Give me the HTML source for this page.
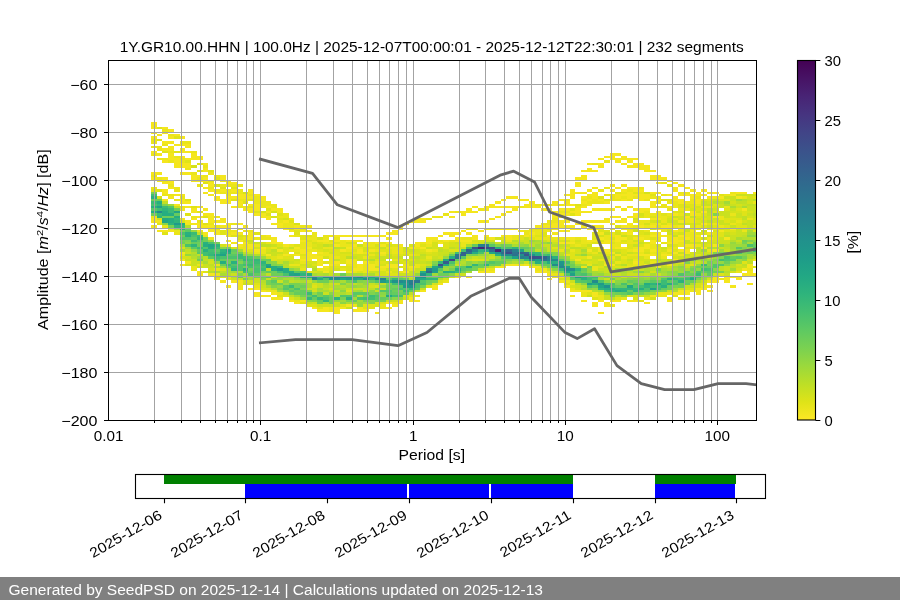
<!DOCTYPE html>
<html><head><meta charset="utf-8"><style>
html,body{margin:0;padding:0;background:#fff;width:900px;height:600px;overflow:hidden}
svg{position:absolute;left:0;top:0;will-change:transform}
text{font-family:"Liberation Sans",sans-serif}
</style></head><body>
<svg id="s" width="900" height="600" viewBox="0 0 900 600" shape-rendering="crispEdges"><rect width="900" height="600" fill="#fff"/><clipPath id="ax"><rect x="108.5" y="60.5" width="648.0" height="360.0"/></clipPath><g clip-path="url(#ax)"><path fill="#482374" d="M477.81 246.80H483.54V249.20H477.81zM495.01 249.20H500.74V251.60H495.01z"/><path fill="#424086" d="M449.14 258.80H454.88V261.20H449.14z"/><path fill="#3e4989" d="M483.54 246.80H489.28V249.20H483.54zM506.48 251.60H512.21V254.00H506.48z"/><path fill="#3d4e8a" d="M437.68 263.60H443.41V266.00H437.68zM472.08 246.80H477.81V249.20H472.08zM489.28 246.80H495.01V249.20H489.28zM529.41 256.40H535.15V258.80H529.41z"/><path fill="#3a538b" d="M523.68 254.00H529.41V256.40H523.68zM535.15 256.40H540.88V258.80H535.15z"/><path fill="#365c8d" d="M443.41 261.20H449.14V263.60H443.41z"/><path fill="#34608d" d="M460.61 251.60H466.34V254.00H460.61zM506.48 249.20H512.21V251.60H506.48zM517.94 251.60H523.68V254.00H517.94z"/><path fill="#32648e" d="M460.61 254.00H466.34V256.40H460.61zM466.34 249.20H472.08V251.60H466.34zM540.88 256.40H546.61V258.80H540.88z"/><path fill="#31688e" d="M426.21 270.80H431.94V273.20H426.21zM523.68 251.60H529.41V254.00H523.68z"/><path fill="#2f6c8e" d="M489.28 249.20H495.01V251.60H489.28zM500.74 251.60H506.48V254.00H500.74z"/><path fill="#2d708e" d="M512.21 254.00H517.94V256.40H512.21zM540.88 258.80H546.61V261.20H540.88z"/><path fill="#2c738e" d="M454.88 254.00H460.61V258.80H454.88zM512.21 251.60H517.94V254.00H512.21z"/><path fill="#2a778e" d="M414.74 280.40H420.48V282.80H414.74zM466.34 251.60H472.08V254.00H466.34z"/><path fill="#297b8e" d="M409.01 282.80H414.74V285.20H409.01zM483.54 244.40H489.28V246.80H483.54z"/><path fill="#277f8e" d="M409.01 280.40H414.74V282.80H409.01zM426.21 268.40H431.94V270.80H426.21zM512.21 249.20H517.94V251.60H512.21zM517.94 256.40H523.68V258.80H517.94zM546.61 256.40H552.35V258.80H546.61z"/><path fill="#26828e" d="M311.54 278.00H317.27V280.40H311.54zM380.34 278.00H386.07V280.40H380.34zM477.81 244.40H483.54V246.80H477.81zM500.74 249.20H506.48V251.60H500.74zM546.61 258.80H552.35V261.20H546.61z"/><path fill="#24868e" d="M311.54 275.60H317.27V278.00H311.54zM334.47 275.60H340.21V278.00H334.47zM523.68 256.40H529.41V258.80H523.68zM552.35 258.80H558.08V261.20H552.35zM558.08 266.00H563.81V268.40H558.08z"/><path fill="#238a8d" d="M156.73 210.80H162.47V213.20H156.73zM357.41 275.60H363.14V278.00H357.41zM397.54 280.40H403.27V282.80H397.54zM437.68 266.00H443.41V268.40H437.68zM472.08 249.20H477.81V251.60H472.08zM500.74 254.00H506.48V256.40H500.74zM506.48 254.00H512.21V256.40H506.48zM552.35 263.60H558.08V266.00H552.35zM563.81 268.40H569.55V270.80H563.81zM569.55 268.40H575.28V270.80H569.55zM592.48 280.40H598.21V282.80H592.48z"/><path fill="#218e8d" d="M323.01 275.60H328.74V278.00H323.01zM328.74 275.60H334.47V278.00H328.74zM334.47 278.00H340.21V280.40H334.47zM363.14 278.00H368.87V280.40H363.14zM374.61 278.00H380.34V280.40H374.61zM495.01 251.60H500.74V254.00H495.01zM529.41 258.80H535.15V261.20H529.41z"/><path fill="#20928c" d="M340.21 275.60H345.94V278.00H340.21zM345.94 275.60H351.67V278.00H345.94zM391.81 280.40H397.54V282.80H391.81zM403.27 280.40H409.01V282.80H403.27zM409.01 285.20H414.74V287.60H409.01zM420.48 273.20H426.21V278.00H420.48zM517.94 254.00H523.68V256.40H517.94zM558.08 263.60H563.81V266.00H558.08zM603.95 285.20H609.68V287.60H603.95z"/><path fill="#1f968b" d="M328.74 278.00H334.47V280.40H328.74zM403.27 285.20H409.01V287.60H403.27zM529.41 254.00H535.15V256.40H529.41zM558.08 261.20H563.81V263.60H558.08z"/><path fill="#1f9a8a" d="M173.94 222.80H179.67V225.20H173.94zM265.67 266.00H271.40V268.40H265.67zM277.14 268.40H282.87V270.80H277.14zM345.94 278.00H351.67V280.40H345.94zM351.67 275.60H357.41V278.00H351.67zM380.34 280.40H386.07V282.80H380.34zM414.74 275.60H420.48V278.00H414.74zM431.94 268.40H437.68V270.80H431.94zM575.28 275.60H581.01V278.00H575.28zM598.21 282.80H603.95V285.20H598.21z"/><path fill="#1f9e89" d="M403.27 282.80H409.01V285.20H403.27zM431.94 270.80H437.68V273.20H431.94zM535.15 258.80H540.88V261.20H535.15zM649.82 287.60H655.55V290.00H649.82z"/><path fill="#1fa187" d="M156.73 206.00H162.47V208.40H156.73zM219.80 254.00H225.54V256.40H219.80zM294.34 273.20H300.07V275.60H294.34zM351.67 278.00H357.41V280.40H351.67zM414.74 278.00H420.48V280.40H414.74zM512.21 256.40H517.94V258.80H512.21zM517.94 249.20H523.68V251.60H517.94zM563.81 266.00H569.55V268.40H563.81zM569.55 273.20H575.28V275.60H569.55zM586.75 282.80H592.48V285.20H586.75z"/><path fill="#21a585" d="M162.47 220.40H168.20V222.80H162.47zM173.94 210.80H179.67V213.20H173.94zM208.34 244.40H214.07V246.80H208.34zM225.54 249.20H231.27V251.60H225.54zM265.67 263.60H271.40V266.00H265.67zM288.61 273.20H294.34V275.60H288.61zM340.21 278.00H345.94V280.40H340.21zM368.87 275.60H374.61V278.00H368.87zM397.54 282.80H403.27V285.20H397.54zM431.94 266.00H437.68V268.40H431.94zM563.81 270.80H569.55V273.20H563.81zM598.21 285.20H603.95V287.60H598.21zM626.88 285.20H632.61V287.60H626.88z"/><path fill="#23a983" d="M162.47 218.00H168.20V220.40H162.47zM208.34 246.80H214.07V249.20H208.34zM214.07 254.00H219.80V256.40H214.07zM317.27 278.00H323.01V280.40H317.27zM357.41 278.00H363.14V280.40H357.41zM386.07 294.80H391.81V297.20H386.07zM420.48 278.00H426.21V280.40H420.48zM443.41 263.60H449.14V266.00H443.41zM443.41 258.80H449.14V261.20H443.41zM483.54 249.20H489.28V251.60H483.54zM489.28 251.60H495.01V254.00H489.28zM615.41 290.00H621.15V292.40H615.41zM655.55 282.80H661.28V285.20H655.55zM689.95 278.00H695.68V280.40H689.95z"/><path fill="#26ad81" d="M151.00 210.80H156.73V213.20H151.00zM156.73 201.20H162.47V203.60H156.73zM162.47 210.80H168.20V215.60H162.47zM168.20 218.00H173.94V222.80H168.20zM168.20 213.20H173.94V215.60H168.20zM173.94 215.60H179.67V218.00H173.94zM179.67 227.60H185.40V230.00H179.67zM179.67 222.80H185.40V225.20H179.67zM185.40 234.80H191.14V237.20H185.40zM202.60 244.40H208.34V246.80H202.60zM219.80 261.20H225.54V263.60H219.80zM219.80 251.60H225.54V254.00H219.80zM271.40 266.00H277.14V270.80H271.40zM282.87 268.40H288.61V273.20H282.87zM288.61 270.80H294.34V273.20H288.61zM305.81 273.20H311.54V278.00H305.81zM363.14 275.60H368.87V278.00H363.14zM386.07 280.40H391.81V282.80H386.07zM443.41 270.80H449.14V273.20H443.41zM449.14 256.40H454.88V258.80H449.14zM454.88 268.40H460.61V270.80H454.88zM466.34 266.00H472.08V268.40H466.34zM472.08 251.60H477.81V254.00H472.08zM495.01 246.80H500.74V249.20H495.01zM535.15 261.20H540.88V263.60H535.15zM546.61 261.20H552.35V263.60H546.61zM581.01 275.60H586.75V278.00H581.01zM592.48 282.80H598.21V285.20H592.48zM603.95 287.60H609.68V290.00H603.95zM609.68 287.60H615.41V290.00H609.68zM638.35 287.60H644.08V290.00H638.35zM644.08 282.80H649.82V285.20H644.08z"/><path fill="#2ab07f" d="M151.00 206.00H156.73V208.40H151.00zM151.00 196.40H156.73V198.80H151.00zM185.40 232.40H191.14V234.80H185.40zM202.60 249.20H208.34V251.60H202.60zM202.60 242.00H208.34V244.40H202.60zM225.54 251.60H231.27V254.00H225.54zM231.27 261.20H237.00V263.60H231.27zM242.74 268.40H248.47V270.80H242.74zM300.07 275.60H305.81V278.00H300.07zM345.94 297.20H351.67V299.60H345.94zM420.48 270.80H426.21V273.20H420.48zM449.14 270.80H454.88V273.20H449.14zM495.01 254.00H500.74V256.40H495.01zM535.15 254.00H540.88V256.40H535.15zM552.35 261.20H558.08V263.60H552.35zM552.35 256.40H558.08V258.80H552.35zM569.55 270.80H575.28V273.20H569.55zM581.01 278.00H586.75V280.40H581.01zM621.15 290.00H626.88V292.40H621.15zM661.28 285.20H667.02V287.60H661.28zM667.02 282.80H672.75V285.20H667.02zM667.02 278.00H672.75V280.40H667.02zM678.48 280.40H684.22V282.80H678.48z"/><path fill="#2fb47c" d="M156.73 215.60H162.47V218.00H156.73zM162.47 208.40H168.20V210.80H162.47zM168.20 222.80H173.94V225.20H168.20zM173.94 225.20H179.67V227.60H173.94zM173.94 220.40H179.67V222.80H173.94zM191.14 244.40H196.87V246.80H191.14zM196.87 237.20H202.60V239.60H196.87zM214.07 244.40H219.80V246.80H214.07zM219.80 249.20H225.54V251.60H219.80zM231.27 268.40H237.00V270.80H231.27zM259.94 261.20H265.67V263.60H259.94zM300.07 273.20H305.81V275.60H300.07zM323.01 299.60H328.74V302.00H323.01zM334.47 297.20H340.21V299.60H334.47zM368.87 278.00H374.61V280.40H368.87zM374.61 275.60H380.34V278.00H374.61zM426.21 278.00H431.94V280.40H426.21zM431.94 278.00H437.68V280.40H431.94zM477.81 249.20H483.54V251.60H477.81zM483.54 263.60H489.28V266.00H483.54zM512.21 246.80H517.94V249.20H512.21zM529.41 251.60H535.15V254.00H529.41zM535.15 251.60H540.88V254.00H535.15zM575.28 268.40H581.01V270.80H575.28zM598.21 287.60H603.95V290.00H598.21zM609.68 290.00H615.41V292.40H609.68zM615.41 287.60H621.15V290.00H615.41zM621.15 287.60H626.88V290.00H621.15zM626.88 287.60H632.61V290.00H626.88zM632.61 290.00H638.35V292.40H632.61zM644.08 285.20H649.82V287.60H644.08zM649.82 282.80H655.55V285.20H649.82zM689.95 275.60H695.68V278.00H689.95z"/><path fill="#35b779" d="M156.73 203.60H162.47V206.00H156.73zM173.94 218.00H179.67V220.40H173.94zM179.67 225.20H185.40V227.60H179.67zM208.34 254.00H214.07V256.40H208.34zM242.74 258.80H248.47V261.20H242.74zM254.20 258.80H259.94V261.20H254.20zM277.14 266.00H282.87V268.40H277.14zM305.81 297.20H311.54V299.60H305.81zM317.27 297.20H323.01V299.60H317.27zM317.27 275.60H323.01V278.00H317.27zM391.81 278.00H397.54V280.40H391.81zM409.01 287.60H414.74V290.00H409.01zM426.21 273.20H431.94V275.60H426.21zM437.68 261.20H443.41V263.60H437.68zM472.08 263.60H477.81V266.00H472.08zM632.61 287.60H638.35V290.00H632.61zM672.75 278.00H678.48V280.40H672.75z"/><path fill="#3bbb75" d="M151.00 201.20H156.73V203.60H151.00zM156.73 213.20H162.47V215.60H156.73zM162.47 206.00H168.20V208.40H162.47zM168.20 208.40H173.94V213.20H168.20zM191.14 239.60H196.87V242.00H191.14zM191.14 232.40H196.87V234.80H191.14zM196.87 246.80H202.60V249.20H196.87zM196.87 234.80H202.60V237.20H196.87zM208.34 251.60H214.07V254.00H208.34zM214.07 256.40H219.80V258.80H214.07zM214.07 246.80H219.80V249.20H214.07zM225.54 263.60H231.27V266.00H225.54zM237.00 254.00H242.74V258.80H237.00zM248.47 263.60H254.20V266.00H248.47zM254.20 261.20H259.94V263.60H254.20zM259.94 268.40H265.67V270.80H259.94zM259.94 263.60H265.67V266.00H259.94zM288.61 285.20H294.34V287.60H288.61zM305.81 292.40H311.54V294.80H305.81zM368.87 294.80H374.61V297.20H368.87zM403.27 290.00H409.01V292.40H403.27zM454.88 270.80H460.61V273.20H454.88zM466.34 246.80H472.08V249.20H466.34zM506.48 256.40H512.21V258.80H506.48zM523.68 258.80H529.41V261.20H523.68zM546.61 254.00H552.35V256.40H546.61zM558.08 268.40H563.81V270.80H558.08zM586.75 278.00H592.48V280.40H586.75zM592.48 275.60H598.21V278.00H592.48zM661.28 280.40H667.02V285.20H661.28zM684.22 278.00H689.95V280.40H684.22zM695.68 273.20H701.42V275.60H695.68zM701.42 263.60H707.15V266.00H701.42zM753.02 249.20H758.75V251.60H753.02z"/><path fill="#42be71" d="M151.00 194.00H156.73V196.40H151.00zM156.73 208.40H162.47V210.80H156.73zM202.60 251.60H208.34V256.40H202.60zM208.34 249.20H214.07V251.60H208.34zM231.27 266.00H237.00V268.40H231.27zM242.74 270.80H248.47V273.20H242.74zM242.74 263.60H248.47V266.00H242.74zM242.74 256.40H248.47V258.80H242.74zM248.47 258.80H254.20V261.20H248.47zM277.14 270.80H282.87V273.20H277.14zM311.54 294.80H317.27V297.20H311.54zM363.14 297.20H368.87V299.60H363.14zM368.87 297.20H374.61V299.60H368.87zM391.81 294.80H397.54V297.20H391.81zM391.81 282.80H397.54V285.20H391.81zM397.54 287.60H403.27V290.00H397.54zM454.88 251.60H460.61V254.00H454.88zM460.61 249.20H466.34V251.60H460.61zM586.75 275.60H592.48V278.00H586.75zM603.95 290.00H609.68V292.40H603.95zM603.95 282.80H609.68V285.20H603.95zM638.35 285.20H644.08V287.60H638.35zM649.82 285.20H655.55V287.60H649.82zM655.55 285.20H661.28V290.00H655.55zM678.48 278.00H684.22V280.40H678.48zM701.42 268.40H707.15V270.80H701.42zM718.62 258.80H724.35V261.20H718.62z"/><path fill="#4ac16d" d="M151.00 203.60H156.73V206.00H151.00zM179.67 232.40H185.40V234.80H179.67zM185.40 244.40H191.14V246.80H185.40zM191.14 234.80H196.87V237.20H191.14zM208.34 242.00H214.07V244.40H208.34zM214.07 258.80H219.80V261.20H214.07zM214.07 251.60H219.80V254.00H214.07zM219.80 256.40H225.54V258.80H219.80zM225.54 256.40H231.27V258.80H225.54zM231.27 256.40H237.00V258.80H231.27zM248.47 273.20H254.20V275.60H248.47zM248.47 266.00H254.20V268.40H248.47zM248.47 261.20H254.20V263.60H248.47zM254.20 268.40H259.94V273.20H254.20zM254.20 263.60H259.94V266.00H254.20zM259.94 266.00H265.67V268.40H259.94zM282.87 273.20H288.61V275.60H282.87zM294.34 287.60H300.07V290.00H294.34zM300.07 270.80H305.81V273.20H300.07zM323.01 297.20H328.74V299.60H323.01zM323.01 278.00H328.74V280.40H323.01zM351.67 280.40H357.41V282.80H351.67zM357.41 297.20H363.14V299.60H357.41zM397.54 294.80H403.27V297.20H397.54zM414.74 282.80H420.48V287.60H414.74zM420.48 282.80H426.21V285.20H420.48zM449.14 261.20H454.88V263.60H449.14zM477.81 251.60H483.54V254.00H477.81zM506.48 246.80H512.21V249.20H506.48zM540.88 261.20H546.61V263.60H540.88zM540.88 254.00H546.61V256.40H540.88zM563.81 261.20H569.55V263.60H563.81zM569.55 275.60H575.28V278.00H569.55zM575.28 278.00H581.01V280.40H575.28zM581.01 273.20H586.75V275.60H581.01zM586.75 280.40H592.48V282.80H586.75zM598.21 280.40H603.95V282.80H598.21zM609.68 282.80H615.41V285.20H609.68zM621.15 282.80H626.88V285.20H621.15zM644.08 287.60H649.82V290.00H644.08zM672.75 282.80H678.48V285.20H672.75zM695.68 270.80H701.42V273.20H695.68zM707.15 268.40H712.88V270.80H707.15zM724.35 256.40H730.08V258.80H724.35zM735.82 251.60H741.55V254.00H735.82zM747.28 244.40H753.02V246.80H747.28z"/><path fill="#52c569" d="M168.20 206.00H173.94V208.40H168.20zM179.67 237.20H185.40V239.60H179.67zM185.40 237.20H191.14V239.60H185.40zM202.60 246.80H208.34V249.20H202.60zM231.27 263.60H237.00V266.00H231.27zM237.00 263.60H242.74V270.80H237.00zM248.47 256.40H254.20V258.80H248.47zM254.20 266.00H259.94V268.40H254.20zM282.87 287.60H288.61V290.00H282.87zM340.21 294.80H345.94V297.20H340.21zM345.94 294.80H351.67V297.20H345.94zM374.61 294.80H380.34V297.20H374.61zM374.61 280.40H380.34V282.80H374.61zM380.34 290.00H386.07V292.40H380.34zM386.07 290.00H391.81V292.40H386.07zM403.27 287.60H409.01V290.00H403.27zM420.48 280.40H426.21V282.80H420.48zM437.68 275.60H443.41V278.00H437.68zM489.28 261.20H495.01V263.60H489.28zM500.74 256.40H506.48V258.80H500.74zM500.74 246.80H506.48V249.20H500.74zM552.35 266.00H558.08V268.40H552.35zM563.81 273.20H569.55V275.60H563.81zM575.28 270.80H581.01V275.60H575.28zM581.01 280.40H586.75V282.80H581.01zM586.75 285.20H592.48V287.60H586.75zM592.48 278.00H598.21V280.40H592.48zM609.68 285.20H615.41V287.60H609.68zM626.88 292.40H632.61V294.80H626.88zM632.61 282.80H638.35V285.20H632.61zM638.35 290.00H644.08V292.40H638.35zM644.08 290.00H649.82V292.40H644.08zM661.28 278.00H667.02V280.40H661.28zM672.75 280.40H678.48V282.80H672.75zM678.48 273.20H684.22V275.60H678.48zM684.22 275.60H689.95V278.00H684.22zM695.68 275.60H701.42V278.00H695.68zM712.88 263.60H718.62V268.40H712.88zM718.62 263.60H724.35V266.00H718.62zM724.35 258.80H730.08V261.20H724.35zM753.02 246.80H758.75V249.20H753.02z"/><path fill="#5ac864" d="M151.00 208.40H156.73V210.80H151.00zM185.40 230.00H191.14V232.40H185.40zM191.14 246.80H196.87V249.20H191.14zM191.14 237.20H196.87V239.60H191.14zM196.87 251.60H202.60V254.00H196.87zM196.87 239.60H202.60V242.00H196.87zM208.34 256.40H214.07V258.80H208.34zM214.07 249.20H219.80V251.60H214.07zM225.54 266.00H231.27V268.40H225.54zM225.54 254.00H231.27V256.40H225.54zM231.27 254.00H237.00V256.40H231.27zM242.74 261.20H248.47V263.60H242.74zM265.67 275.60H271.40V278.00H265.67zM271.40 280.40H277.14V282.80H271.40zM282.87 285.20H288.61V287.60H282.87zM288.61 290.00H294.34V292.40H288.61zM294.34 270.80H300.07V273.20H294.34zM323.01 294.80H328.74V297.20H323.01zM351.67 292.40H357.41V294.80H351.67zM357.41 292.40H363.14V294.80H357.41zM363.14 292.40H368.87V294.80H363.14zM374.61 297.20H380.34V299.60H374.61zM386.07 292.40H391.81V294.80H386.07zM386.07 278.00H391.81V280.40H386.07zM397.54 285.20H403.27V287.60H397.54zM397.54 278.00H403.27V280.40H397.54zM403.27 292.40H409.01V294.80H403.27zM414.74 287.60H420.48V290.00H414.74zM426.21 275.60H431.94V278.00H426.21zM437.68 268.40H443.41V270.80H437.68zM454.88 266.00H460.61V268.40H454.88zM460.61 266.00H466.34V270.80H460.61zM460.61 256.40H466.34V258.80H460.61zM489.28 244.40H495.01V246.80H489.28zM517.94 246.80H523.68V249.20H517.94zM558.08 258.80H563.81V261.20H558.08zM569.55 278.00H575.28V280.40H569.55zM575.28 280.40H581.01V282.80H575.28zM632.61 285.20H638.35V287.60H632.61zM649.82 280.40H655.55V282.80H649.82zM707.15 270.80H712.88V273.20H707.15zM730.08 258.80H735.82V261.20H730.08zM735.82 256.40H741.55V258.80H735.82zM735.82 246.80H741.55V249.20H735.82z"/><path fill="#65cb5e" d="M173.94 213.20H179.67V215.60H173.94zM185.40 227.60H191.14V230.00H185.40zM191.14 242.00H196.87V244.40H191.14zM196.87 249.20H202.60V251.60H196.87zM219.80 258.80H225.54V261.20H219.80zM231.27 249.20H237.00V251.60H231.27zM237.00 275.60H242.74V278.00H237.00zM237.00 258.80H242.74V261.20H237.00zM248.47 270.80H254.20V273.20H248.47zM254.20 273.20H259.94V275.60H254.20zM265.67 270.80H271.40V273.20H265.67zM294.34 292.40H300.07V294.80H294.34zM300.07 290.00H305.81V294.80H300.07zM305.81 294.80H311.54V297.20H305.81zM311.54 297.20H317.27V299.60H311.54zM317.27 299.60H323.01V302.00H317.27zM328.74 297.20H334.47V299.60H328.74zM351.67 299.60H357.41V302.00H351.67zM351.67 294.80H357.41V297.20H351.67zM380.34 297.20H386.07V299.60H380.34zM391.81 292.40H397.54V294.80H391.81zM391.81 287.60H397.54V290.00H391.81zM403.27 278.00H409.01V280.40H403.27zM409.01 290.00H414.74V292.40H409.01zM431.94 275.60H437.68V278.00H431.94zM454.88 258.80H460.61V261.20H454.88zM466.34 268.40H472.08V270.80H466.34zM472.08 244.40H477.81V246.80H472.08zM477.81 263.60H483.54V266.00H477.81zM483.54 261.20H489.28V263.60H483.54zM495.01 261.20H500.74V263.60H495.01zM500.74 261.20H506.48V263.60H500.74zM523.68 246.80H529.41V249.20H523.68zM540.88 263.60H546.61V266.00H540.88zM546.61 263.60H552.35V266.00H546.61zM563.81 263.60H569.55V266.00H563.81zM581.01 268.40H586.75V270.80H581.01zM592.48 285.20H598.21V287.60H592.48zM615.41 285.20H621.15V287.60H615.41zM621.15 292.40H626.88V294.80H621.15zM621.15 285.20H626.88V287.60H621.15zM626.88 290.00H632.61V292.40H626.88zM626.88 280.40H632.61V282.80H626.88zM661.28 287.60H667.02V290.00H661.28zM667.02 280.40H672.75V282.80H667.02zM672.75 275.60H678.48V278.00H672.75zM684.22 282.80H689.95V285.20H684.22zM684.22 270.80H689.95V273.20H684.22zM701.42 270.80H707.15V273.20H701.42zM707.15 273.20H712.88V275.60H707.15zM730.08 256.40H735.82V258.80H730.08zM753.02 244.40H758.75V246.80H753.02z"/><path fill="#6ece58" d="M151.00 213.20H156.73V215.60H151.00zM151.00 198.80H156.73V201.20H151.00zM156.73 198.80H162.47V201.20H156.73zM162.47 215.60H168.20V218.00H162.47zM168.20 215.60H173.94V218.00H168.20zM173.94 208.40H179.67V210.80H173.94zM179.67 242.00H185.40V244.40H179.67zM179.67 234.80H185.40V237.20H179.67zM196.87 258.80H202.60V261.20H196.87zM196.87 242.00H202.60V246.80H196.87zM202.60 237.20H208.34V242.00H202.60zM219.80 263.60H225.54V266.00H219.80zM225.54 258.80H231.27V263.60H225.54zM231.27 258.80H237.00V261.20H231.27zM231.27 251.60H237.00V254.00H231.27zM237.00 251.60H242.74V254.00H237.00zM254.20 256.40H259.94V258.80H254.20zM259.94 275.60H265.67V278.00H259.94zM259.94 258.80H265.67V261.20H259.94zM265.67 258.80H271.40V261.20H265.67zM271.40 282.80H277.14V285.20H271.40zM271.40 270.80H277.14V275.60H271.40zM277.14 282.80H282.87V285.20H277.14zM277.14 273.20H282.87V275.60H277.14zM288.61 287.60H294.34V290.00H288.61zM294.34 290.00H300.07V292.40H294.34zM294.34 275.60H300.07V278.00H294.34zM300.07 285.20H305.81V287.60H300.07zM317.27 302.00H323.01V304.40H317.27zM317.27 292.40H323.01V294.80H317.27zM317.27 280.40H323.01V282.80H317.27zM323.01 280.40H328.74V282.80H323.01zM328.74 299.60H334.47V304.40H328.74zM328.74 294.80H334.47V297.20H328.74zM340.21 273.20H345.94V275.60H340.21zM368.87 280.40H374.61V282.80H368.87zM374.61 299.60H380.34V302.00H374.61zM374.61 292.40H380.34V294.80H374.61zM386.07 297.20H391.81V299.60H386.07zM386.07 285.20H391.81V290.00H386.07zM391.81 290.00H397.54V292.40H391.81zM397.54 292.40H403.27V294.80H397.54zM426.21 280.40H431.94V282.80H426.21zM431.94 263.60H437.68V266.00H431.94zM437.68 273.20H443.41V275.60H437.68zM443.41 273.20H449.14V278.00H443.41zM449.14 263.60H454.88V266.00H449.14zM449.14 254.00H454.88V256.40H449.14zM472.08 266.00H477.81V268.40H472.08zM477.81 266.00H483.54V268.40H477.81zM489.28 263.60H495.01V266.00H489.28zM495.01 263.60H500.74V266.00H495.01zM500.74 244.40H506.48V246.80H500.74zM546.61 266.00H552.35V268.40H546.61zM569.55 263.60H575.28V268.40H569.55zM581.01 270.80H586.75V273.20H581.01zM586.75 273.20H592.48V275.60H586.75zM615.41 292.40H621.15V294.80H615.41zM632.61 280.40H638.35V282.80H632.61zM638.35 282.80H644.08V285.20H638.35zM644.08 280.40H649.82V282.80H644.08zM655.55 280.40H661.28V282.80H655.55zM667.02 285.20H672.75V290.00H667.02zM667.02 275.60H672.75V278.00H667.02zM678.48 282.80H684.22V287.60H678.48zM684.22 280.40H689.95V282.80H684.22zM684.22 273.20H689.95V275.60H684.22zM689.95 280.40H695.68V282.80H689.95zM689.95 273.20H695.68V275.60H689.95zM695.68 266.00H701.42V268.40H695.68zM701.42 266.00H707.15V268.40H701.42zM707.15 266.00H712.88V268.40H707.15zM712.88 270.80H718.62V273.20H712.88zM712.88 254.00H718.62V256.40H712.88zM724.35 261.20H730.08V263.60H724.35zM730.08 251.60H735.82V254.00H730.08zM741.55 239.60H747.28V242.00H741.55zM747.28 251.60H753.02V254.00H747.28zM753.02 242.00H758.75V244.40H753.02z"/><path fill="#77d153" d="M151.00 191.60H156.73V194.00H151.00zM168.20 225.20H173.94V227.60H168.20zM179.67 239.60H185.40V242.00H179.67zM179.67 230.00H185.40V232.40H179.67zM214.07 242.00H219.80V244.40H214.07zM225.54 246.80H231.27V249.20H225.54zM242.74 278.00H248.47V280.40H242.74zM242.74 266.00H248.47V268.40H242.74zM248.47 268.40H254.20V270.80H248.47zM254.20 275.60H259.94V278.00H254.20zM259.94 270.80H265.67V273.20H259.94zM265.67 280.40H271.40V285.20H265.67zM288.61 282.80H294.34V285.20H288.61zM294.34 282.80H300.07V287.60H294.34zM300.07 294.80H305.81V297.20H300.07zM317.27 294.80H323.01V297.20H317.27zM340.21 297.20H345.94V299.60H340.21zM345.94 299.60H351.67V302.00H345.94zM345.94 280.40H351.67V282.80H345.94zM363.14 299.60H368.87V302.00H363.14zM363.14 294.80H368.87V297.20H363.14zM380.34 299.60H386.07V302.00H380.34zM386.07 282.80H391.81V285.20H386.07zM391.81 285.20H397.54V287.60H391.81zM397.54 290.00H403.27V292.40H397.54zM420.48 285.20H426.21V287.60H420.48zM426.21 282.80H431.94V285.20H426.21zM431.94 280.40H437.68V282.80H431.94zM449.14 268.40H454.88V270.80H449.14zM460.61 270.80H466.34V273.20H460.61zM472.08 268.40H477.81V270.80H472.08zM472.08 254.00H477.81V256.40H472.08zM500.74 258.80H506.48V261.20H500.74zM506.48 244.40H512.21V246.80H506.48zM517.94 258.80H523.68V261.20H517.94zM523.68 249.20H529.41V251.60H523.68zM529.41 261.20H535.15V263.60H529.41zM529.41 246.80H535.15V249.20H529.41zM540.88 251.60H546.61V254.00H540.88zM546.61 251.60H552.35V254.00H546.61zM558.08 270.80H563.81V273.20H558.08zM609.68 292.40H615.41V294.80H609.68zM609.68 278.00H615.41V280.40H609.68zM638.35 292.40H644.08V294.80H638.35zM649.82 290.00H655.55V292.40H649.82zM649.82 278.00H655.55V280.40H649.82zM655.55 268.40H661.28V270.80H655.55zM672.75 285.20H678.48V287.60H672.75zM678.48 275.60H684.22V278.00H678.48zM689.95 268.40H695.68V270.80H689.95zM689.95 258.80H695.68V261.20H689.95zM695.68 278.00H701.42V280.40H695.68zM707.15 261.20H712.88V263.60H707.15zM718.62 270.80H724.35V273.20H718.62zM718.62 251.60H724.35V256.40H718.62zM724.35 251.60H730.08V254.00H724.35zM741.55 256.40H747.28V258.80H741.55zM741.55 242.00H747.28V244.40H741.55zM747.28 249.20H753.02V251.60H747.28z"/><path fill="#81d34d" d="M162.47 203.60H168.20V206.00H162.47zM185.40 239.60H191.14V242.00H185.40zM237.00 273.20H242.74V275.60H237.00zM237.00 261.20H242.74V263.60H237.00zM259.94 278.00H265.67V280.40H259.94zM265.67 261.20H271.40V263.60H265.67zM271.40 285.20H277.14V287.60H271.40zM271.40 263.60H277.14V266.00H271.40zM277.14 287.60H282.87V290.00H277.14zM282.87 290.00H288.61V292.40H282.87zM288.61 292.40H294.34V294.80H288.61zM300.07 287.60H305.81V290.00H300.07zM300.07 282.80H305.81V285.20H300.07zM300.07 278.00H305.81V280.40H300.07zM305.81 290.00H311.54V292.40H305.81zM305.81 278.00H311.54V280.40H305.81zM311.54 299.60H317.27V302.00H311.54zM340.21 282.80H345.94V285.20H340.21zM357.41 280.40H363.14V282.80H357.41zM368.87 299.60H374.61V304.40H368.87zM368.87 292.40H374.61V294.80H368.87zM431.94 261.20H437.68V263.60H431.94zM437.68 270.80H443.41V273.20H437.68zM466.34 254.00H472.08V256.40H466.34zM495.01 244.40H500.74V246.80H495.01zM506.48 258.80H512.21V261.20H506.48zM529.41 249.20H535.15V251.60H529.41zM552.35 251.60H558.08V256.40H552.35zM569.55 261.20H575.28V263.60H569.55zM575.28 266.00H581.01V268.40H575.28zM586.75 266.00H592.48V268.40H586.75zM603.95 275.60H609.68V278.00H603.95zM609.68 294.80H615.41V297.20H609.68zM615.41 282.80H621.15V285.20H615.41zM626.88 282.80H632.61V285.20H626.88zM632.61 292.40H638.35V294.80H632.61zM632.61 278.00H638.35V280.40H632.61zM638.35 280.40H644.08V282.80H638.35zM638.35 270.80H644.08V273.20H638.35zM655.55 290.00H661.28V292.40H655.55zM684.22 261.20H689.95V263.60H684.22zM707.15 263.60H712.88V266.00H707.15zM712.88 258.80H718.62V261.20H712.88zM712.88 251.60H718.62V254.00H712.88zM712.88 213.20H718.62V215.60H712.88zM718.62 256.40H724.35V258.80H718.62zM741.55 251.60H747.28V254.00H741.55zM741.55 246.80H747.28V249.20H741.55zM747.28 239.60H753.02V242.00H747.28zM753.02 251.60H758.75V254.00H753.02z"/><path fill="#8bd646" d="M162.47 222.80H168.20V225.20H162.47zM185.40 242.00H191.14V244.40H185.40zM219.80 246.80H225.54V249.20H219.80zM271.40 278.00H277.14V280.40H271.40zM271.40 261.20H277.14V263.60H271.40zM277.14 275.60H282.87V278.00H277.14zM277.14 263.60H282.87V266.00H277.14zM282.87 280.40H288.61V282.80H282.87zM282.87 275.60H288.61V278.00H282.87zM288.61 268.40H294.34V270.80H288.61zM305.81 299.60H311.54V302.00H305.81zM328.74 292.40H334.47V294.80H328.74zM334.47 280.40H340.21V282.80H334.47zM340.21 302.00H345.94V304.40H340.21zM340.21 290.00H345.94V292.40H340.21zM363.14 280.40H368.87V282.80H363.14zM368.87 290.00H374.61V292.40H368.87zM374.61 287.60H380.34V290.00H374.61zM380.34 292.40H386.07V294.80H380.34zM380.34 275.60H386.07V278.00H380.34zM391.81 297.20H397.54V299.60H391.81zM426.21 266.00H431.94V268.40H426.21zM449.14 273.20H454.88V275.60H449.14zM466.34 261.20H472.08V266.00H466.34zM477.81 261.20H483.54V263.60H477.81zM495.01 258.80H500.74V261.20H495.01zM523.68 244.40H529.41V246.80H523.68zM546.61 242.00H552.35V244.40H546.61zM552.35 268.40H558.08V270.80H552.35zM558.08 256.40H563.81V258.80H558.08zM581.01 282.80H586.75V285.20H581.01zM586.75 287.60H592.48V290.00H586.75zM603.95 280.40H609.68V282.80H603.95zM615.41 280.40H621.15V282.80H615.41zM621.15 280.40H626.88V282.80H621.15zM626.88 278.00H632.61V280.40H626.88zM626.88 268.40H632.61V270.80H626.88zM638.35 278.00H644.08V280.40H638.35zM649.82 275.60H655.55V278.00H649.82zM661.28 290.00H667.02V292.40H661.28zM661.28 275.60H667.02V278.00H661.28zM667.02 270.80H672.75V273.20H667.02zM672.75 270.80H678.48V275.60H672.75zM678.48 266.00H684.22V268.40H678.48zM689.95 270.80H695.68V273.20H689.95zM689.95 266.00H695.68V268.40H689.95zM712.88 268.40H718.62V270.80H712.88zM712.88 261.20H718.62V263.60H712.88zM718.62 244.40H724.35V246.80H718.62zM724.35 263.60H730.08V266.00H724.35zM735.82 249.20H741.55V251.60H735.82zM741.55 258.80H747.28V261.20H741.55zM741.55 254.00H747.28V256.40H741.55zM741.55 249.20H747.28V251.60H741.55zM747.28 234.80H753.02V237.20H747.28zM753.02 234.80H758.75V237.20H753.02z"/><path fill="#95d840" d="M185.40 254.00H191.14V256.40H185.40zM191.14 249.20H196.87V251.60H191.14zM191.14 230.00H196.87V232.40H191.14zM196.87 256.40H202.60V258.80H196.87zM208.34 239.60H214.07V242.00H208.34zM214.07 261.20H219.80V263.60H214.07zM242.74 254.00H248.47V256.40H242.74zM248.47 254.00H254.20V256.40H248.47zM259.94 273.20H265.67V275.60H259.94zM277.14 285.20H282.87V287.60H277.14zM277.14 278.00H282.87V280.40H277.14zM288.61 275.60H294.34V278.00H288.61zM294.34 278.00H300.07V280.40H294.34zM311.54 292.40H317.27V294.80H311.54zM311.54 280.40H317.27V282.80H311.54zM334.47 299.60H340.21V302.00H334.47zM351.67 285.20H357.41V287.60H351.67zM357.41 302.00H363.14V306.80H357.41zM363.14 282.80H368.87V285.20H363.14zM380.34 294.80H386.07V297.20H380.34zM380.34 285.20H386.07V287.60H380.34zM386.07 275.60H391.81V278.00H386.07zM391.81 275.60H397.54V278.00H391.81zM397.54 297.20H403.27V299.60H397.54zM397.54 275.60H403.27V278.00H397.54zM414.74 273.20H420.48V275.60H414.74zM443.41 266.00H449.14V268.40H443.41zM443.41 256.40H449.14V258.80H443.41zM449.14 266.00H454.88V268.40H449.14zM477.81 254.00H483.54V256.40H477.81zM483.54 242.00H489.28V244.40H483.54zM489.28 242.00H495.01V244.40H489.28zM512.21 258.80H517.94V261.20H512.21zM517.94 244.40H523.68V246.80H517.94zM563.81 258.80H569.55V261.20H563.81zM581.01 254.00H586.75V256.40H581.01zM586.75 268.40H592.48V273.20H586.75zM592.48 287.60H598.21V290.00H592.48zM598.21 273.20H603.95V275.60H598.21zM603.95 292.40H609.68V294.80H603.95zM621.15 294.80H626.88V297.20H621.15zM621.15 278.00H626.88V280.40H621.15zM621.15 268.40H626.88V270.80H621.15zM644.08 292.40H649.82V294.80H644.08zM644.08 278.00H649.82V280.40H644.08zM655.55 275.60H661.28V280.40H655.55zM655.55 270.80H661.28V273.20H655.55zM667.02 273.20H672.75V275.60H667.02zM678.48 268.40H684.22V270.80H678.48zM695.68 268.40H701.42V270.80H695.68zM695.68 263.60H701.42V266.00H695.68zM701.42 273.20H707.15V278.00H701.42zM701.42 258.80H707.15V261.20H701.42zM718.62 261.20H724.35V263.60H718.62zM724.35 254.00H730.08V256.40H724.35zM730.08 261.20H735.82V263.60H730.08zM730.08 242.00H735.82V244.40H730.08zM735.82 254.00H741.55V256.40H735.82zM741.55 244.40H747.28V246.80H741.55zM747.28 246.80H753.02V249.20H747.28zM753.02 254.00H758.75V256.40H753.02zM753.02 239.60H758.75V242.00H753.02z"/><path fill="#a0da39" d="M168.20 203.60H173.94V206.00H168.20zM179.67 249.20H185.40V251.60H179.67zM185.40 246.80H191.14V249.20H185.40zM219.80 266.00H225.54V268.40H219.80zM231.27 270.80H237.00V273.20H231.27zM248.47 278.00H254.20V280.40H248.47zM259.94 256.40H265.67V258.80H259.94zM277.14 290.00H282.87V292.40H277.14zM282.87 282.80H288.61V285.20H282.87zM294.34 294.80H300.07V297.20H294.34zM294.34 268.40H300.07V270.80H294.34zM300.07 297.20H305.81V299.60H300.07zM317.27 287.60H323.01V290.00H317.27zM323.01 302.00H328.74V304.40H323.01zM328.74 280.40H334.47V282.80H328.74zM334.47 287.60H340.21V290.00H334.47zM340.21 299.60H345.94V302.00H340.21zM345.94 285.20H351.67V287.60H345.94zM351.67 302.00H357.41V304.40H351.67zM351.67 297.20H357.41V299.60H351.67zM357.41 299.60H363.14V302.00H357.41zM357.41 290.00H363.14V292.40H357.41zM357.41 285.20H363.14V287.60H357.41zM363.14 302.00H368.87V304.40H363.14zM431.94 273.20H437.68V275.60H431.94zM443.41 268.40H449.14V270.80H443.41zM472.08 261.20H477.81V263.60H472.08zM483.54 266.00H489.28V268.40H483.54zM483.54 254.00H489.28V256.40H483.54zM489.28 258.80H495.01V261.20H489.28zM495.01 256.40H500.74V258.80H495.01zM506.48 261.20H512.21V263.60H506.48zM517.94 261.20H523.68V263.60H517.94zM529.41 239.60H535.15V242.00H529.41zM535.15 263.60H540.88V266.00H535.15zM535.15 244.40H540.88V249.20H535.15zM540.88 266.00H546.61V268.40H540.88zM540.88 249.20H546.61V251.60H540.88zM540.88 242.00H546.61V244.40H540.88zM563.81 256.40H569.55V258.80H563.81zM575.28 263.60H581.01V266.00H575.28zM592.48 273.20H598.21V275.60H592.48zM598.21 275.60H603.95V278.00H598.21zM615.41 275.60H621.15V278.00H615.41zM615.41 268.40H621.15V273.20H615.41zM632.61 270.80H638.35V273.20H632.61zM638.35 275.60H644.08V278.00H638.35zM649.82 292.40H655.55V294.80H649.82zM661.28 270.80H667.02V273.20H661.28zM672.75 287.60H678.48V290.00H672.75zM672.75 266.00H678.48V268.40H672.75zM678.48 270.80H684.22V273.20H678.48zM701.42 278.00H707.15V280.40H701.42zM701.42 249.20H707.15V251.60H701.42zM707.15 258.80H712.88V261.20H707.15zM707.15 254.00H712.88V256.40H707.15zM712.88 256.40H718.62V258.80H712.88zM718.62 249.20H724.35V251.60H718.62zM724.35 201.20H730.08V203.60H724.35zM730.08 268.40H735.82V270.80H730.08zM730.08 254.00H735.82V256.40H730.08zM730.08 244.40H735.82V249.20H730.08zM735.82 258.80H741.55V263.60H735.82zM735.82 244.40H741.55V246.80H735.82zM735.82 198.80H741.55V201.20H735.82zM747.28 232.40H753.02V234.80H747.28zM753.02 232.40H758.75V234.80H753.02z"/><path fill="#aadc32" d="M173.94 227.60H179.67V230.00H173.94zM179.67 244.40H185.40V246.80H179.67zM191.14 254.00H196.87V256.40H191.14zM202.60 261.20H208.34V263.60H202.60zM214.07 270.80H219.80V273.20H214.07zM214.07 266.00H219.80V268.40H214.07zM219.80 273.20H225.54V275.60H219.80zM225.54 268.40H231.27V273.20H225.54zM237.00 270.80H242.74V273.20H237.00zM237.00 249.20H242.74V251.60H237.00zM242.74 273.20H248.47V275.60H242.74zM248.47 275.60H254.20V278.00H248.47zM265.67 285.20H271.40V287.60H265.67zM282.87 278.00H288.61V280.40H282.87zM282.87 261.20H288.61V263.60H282.87zM288.61 278.00H294.34V280.40H288.61zM300.07 280.40H305.81V282.80H300.07zM305.81 282.80H311.54V287.60H305.81zM311.54 273.20H317.27V275.60H311.54zM317.27 290.00H323.01V292.40H317.27zM323.01 290.00H328.74V292.40H323.01zM323.01 282.80H328.74V285.20H323.01zM323.01 273.20H328.74V275.60H323.01zM334.47 285.20H340.21V287.60H334.47zM334.47 273.20H340.21V275.60H334.47zM340.21 292.40H345.94V294.80H340.21zM340.21 287.60H345.94V290.00H340.21zM340.21 280.40H345.94V282.80H340.21zM345.94 302.00H351.67V304.40H345.94zM345.94 282.80H351.67V285.20H345.94zM345.94 273.20H351.67V275.60H345.94zM351.67 290.00H357.41V292.40H351.67zM351.67 273.20H357.41V275.60H351.67zM357.41 282.80H363.14V285.20H357.41zM357.41 273.20H363.14V275.60H357.41zM363.14 285.20H368.87V287.60H363.14zM368.87 273.20H374.61V275.60H368.87zM449.14 251.60H454.88V254.00H449.14zM454.88 261.20H460.61V263.60H454.88zM460.61 263.60H466.34V266.00H460.61zM460.61 258.80H466.34V261.20H460.61zM466.34 270.80H472.08V273.20H466.34zM466.34 244.40H472.08V246.80H466.34zM483.54 251.60H489.28V254.00H483.54zM512.21 244.40H517.94V246.80H512.21zM517.94 242.00H523.68V244.40H517.94zM535.15 239.60H540.88V242.00H535.15zM540.88 246.80H546.61V249.20H540.88zM581.01 263.60H586.75V266.00H581.01zM581.01 249.20H586.75V251.60H581.01zM592.48 270.80H598.21V273.20H592.48zM598.21 290.00H603.95V292.40H598.21zM598.21 278.00H603.95V280.40H598.21zM609.68 270.80H615.41V273.20H609.68zM615.41 278.00H621.15V280.40H615.41zM621.15 270.80H626.88V273.20H621.15zM626.88 275.60H632.61V278.00H626.88zM644.08 275.60H649.82V278.00H644.08zM644.08 270.80H649.82V273.20H644.08zM649.82 273.20H655.55V275.60H649.82zM661.28 273.20H667.02V275.60H661.28zM661.28 268.40H667.02V270.80H661.28zM672.75 268.40H678.48V270.80H672.75zM684.22 268.40H689.95V270.80H684.22zM689.95 282.80H695.68V285.20H689.95zM695.68 280.40H701.42V282.80H695.68zM707.15 275.60H712.88V278.00H707.15zM730.08 249.20H735.82V251.60H730.08zM730.08 206.00H735.82V208.40H730.08zM735.82 237.20H741.55V239.60H735.82zM741.55 206.00H747.28V208.40H741.55zM747.28 254.00H753.02V258.80H747.28zM747.28 242.00H753.02V244.40H747.28zM747.28 230.00H753.02V232.40H747.28z"/><path fill="#b5de2b" d="M185.40 225.20H191.14V227.60H185.40zM191.14 256.40H196.87V258.80H191.14zM191.14 251.60H196.87V254.00H191.14zM202.60 256.40H208.34V258.80H202.60zM208.34 270.80H214.07V273.20H208.34zM225.54 273.20H231.27V275.60H225.54zM231.27 275.60H237.00V278.00H231.27zM254.20 254.00H259.94V256.40H254.20zM259.94 280.40H265.67V282.80H259.94zM271.40 287.60H277.14V290.00H271.40zM282.87 263.60H288.61V268.40H282.87zM294.34 280.40H300.07V282.80H294.34zM311.54 268.40H317.27V270.80H311.54zM317.27 273.20H323.01V275.60H317.27zM323.01 285.20H328.74V287.60H323.01zM334.47 292.40H340.21V297.20H334.47zM340.21 285.20H345.94V287.60H340.21zM357.41 294.80H363.14V297.20H357.41zM368.87 258.80H374.61V261.20H368.87zM374.61 282.80H380.34V285.20H374.61zM403.27 275.60H409.01V278.00H403.27zM409.01 278.00H414.74V280.40H409.01zM437.68 278.00H443.41V280.40H437.68zM437.68 258.80H443.41V261.20H437.68zM460.61 261.20H466.34V263.60H460.61zM466.34 256.40H472.08V258.80H466.34zM483.54 256.40H489.28V258.80H483.54zM489.28 254.00H495.01V256.40H489.28zM512.21 261.20H517.94V263.60H512.21zM512.21 239.60H517.94V242.00H512.21zM529.41 242.00H535.15V244.40H529.41zM535.15 242.00H540.88V244.40H535.15zM552.35 244.40H558.08V246.80H552.35zM558.08 254.00H563.81V256.40H558.08zM575.28 282.80H581.01V285.20H575.28zM575.28 254.00H581.01V256.40H575.28zM581.01 287.60H586.75V290.00H581.01zM592.48 290.00H598.21V292.40H592.48zM598.21 270.80H603.95V273.20H598.21zM603.95 273.20H609.68V275.60H603.95zM603.95 266.00H609.68V268.40H603.95zM609.68 275.60H615.41V278.00H609.68zM615.41 294.80H621.15V297.20H615.41zM621.15 273.20H626.88V275.60H621.15zM621.15 263.60H626.88V266.00H621.15zM644.08 268.40H649.82V270.80H644.08zM655.55 258.80H661.28V261.20H655.55zM661.28 261.20H667.02V263.60H661.28zM667.02 268.40H672.75V270.80H667.02zM672.75 290.00H678.48V292.40H672.75zM678.48 263.60H684.22V266.00H678.48zM695.68 256.40H701.42V261.20H695.68zM701.42 261.20H707.15V263.60H701.42zM707.15 246.80H712.88V249.20H707.15zM712.88 246.80H718.62V249.20H712.88zM712.88 201.20H718.62V203.60H712.88zM724.35 270.80H730.08V273.20H724.35zM724.35 244.40H730.08V246.80H724.35zM724.35 203.60H730.08V206.00H724.35zM730.08 263.60H735.82V266.00H730.08zM730.08 239.60H735.82V242.00H730.08zM735.82 242.00H741.55V244.40H735.82zM741.55 237.20H747.28V239.60H741.55zM741.55 198.80H747.28V201.20H741.55zM747.28 237.20H753.02V239.60H747.28zM753.02 237.20H758.75V239.60H753.02zM753.02 198.80H758.75V201.20H753.02z"/><path fill="#c0df25" d="M162.47 201.20H168.20V203.60H162.47zM185.40 249.20H191.14V251.60H185.40zM196.87 254.00H202.60V256.40H196.87zM196.87 232.40H202.60V234.80H196.87zM202.60 258.80H208.34V261.20H202.60zM208.34 263.60H214.07V266.00H208.34zM219.80 270.80H225.54V273.20H219.80zM242.74 275.60H248.47V278.00H242.74zM242.74 251.60H248.47V254.00H242.74zM259.94 282.80H265.67V285.20H259.94zM259.94 244.40H265.67V246.80H259.94zM265.67 273.20H271.40V275.60H265.67zM265.67 268.40H271.40V270.80H265.67zM265.67 244.40H271.40V246.80H265.67zM271.40 249.20H277.14V251.60H271.40zM288.61 294.80H294.34V297.20H288.61zM288.61 280.40H294.34V282.80H288.61zM305.81 302.00H311.54V304.40H305.81zM323.01 287.60H328.74V290.00H323.01zM323.01 244.40H328.74V246.80H323.01zM328.74 290.00H334.47V292.40H328.74zM328.74 285.20H334.47V287.60H328.74zM334.47 246.80H340.21V249.20H334.47zM345.94 292.40H351.67V294.80H345.94zM345.94 256.40H351.67V258.80H345.94zM351.67 282.80H357.41V285.20H351.67zM363.14 287.60H368.87V290.00H363.14zM363.14 273.20H368.87V275.60H363.14zM368.87 287.60H374.61V290.00H368.87zM380.34 282.80H386.07V285.20H380.34zM386.07 299.60H391.81V302.00H386.07zM409.01 292.40H414.74V294.80H409.01zM414.74 290.00H420.48V292.40H414.74zM414.74 256.40H420.48V258.80H414.74zM420.48 254.00H426.21V256.40H420.48zM426.21 261.20H431.94V263.60H426.21zM431.94 258.80H437.68V261.20H431.94zM437.68 249.20H443.41V251.60H437.68zM443.41 254.00H449.14V256.40H443.41zM449.14 246.80H454.88V249.20H449.14zM477.81 256.40H483.54V258.80H477.81zM489.28 266.00H495.01V268.40H489.28zM500.74 242.00H506.48V244.40H500.74zM529.41 263.60H535.15V266.00H529.41zM529.41 244.40H535.15V246.80H529.41zM535.15 249.20H540.88V251.60H535.15zM558.08 251.60H563.81V254.00H558.08zM558.08 244.40H563.81V246.80H558.08zM563.81 249.20H569.55V251.60H563.81zM569.55 246.80H575.28V249.20H569.55zM575.28 246.80H581.01V249.20H575.28zM581.01 285.20H586.75V287.60H581.01zM581.01 251.60H586.75V254.00H581.01zM592.48 263.60H598.21V266.00H592.48zM598.21 251.60H603.95V254.00H598.21zM603.95 256.40H609.68V258.80H603.95zM609.68 297.20H615.41V299.60H609.68zM609.68 280.40H615.41V282.80H609.68zM615.41 251.60H621.15V254.00H615.41zM626.88 270.80H632.61V273.20H626.88zM632.61 275.60H638.35V278.00H632.61zM638.35 273.20H644.08V275.60H638.35zM649.82 266.00H655.55V270.80H649.82zM661.28 266.00H667.02V268.40H661.28zM667.02 258.80H672.75V261.20H667.02zM684.22 258.80H689.95V261.20H684.22zM684.22 254.00H689.95V256.40H684.22zM689.95 261.20H695.68V263.60H689.95zM695.68 246.80H701.42V249.20H695.68zM701.42 256.40H707.15V258.80H701.42zM707.15 220.40H712.88V222.80H707.15zM707.15 208.40H712.88V213.20H707.15zM718.62 266.00H724.35V270.80H718.62zM718.62 201.20H724.35V203.60H718.62zM724.35 246.80H730.08V249.20H724.35zM724.35 234.80H730.08V237.20H724.35zM730.08 266.00H735.82V268.40H730.08zM735.82 201.20H741.55V203.60H735.82zM741.55 263.60H747.28V266.00H741.55zM741.55 234.80H747.28V237.20H741.55zM741.55 222.80H747.28V225.20H741.55zM741.55 215.60H747.28V220.40H741.55zM741.55 201.20H747.28V203.60H741.55zM747.28 261.20H753.02V263.60H747.28zM747.28 203.60H753.02V206.00H747.28zM753.02 256.40H758.75V258.80H753.02zM753.02 213.20H758.75V215.60H753.02zM753.02 203.60H758.75V206.00H753.02z"/><path fill="#cae11f" d="M173.94 206.00H179.67V208.40H173.94zM185.40 258.80H191.14V261.20H185.40zM185.40 251.60H191.14V254.00H185.40zM191.14 258.80H196.87V266.00H191.14zM196.87 266.00H202.60V268.40H196.87zM196.87 261.20H202.60V263.60H196.87zM202.60 263.60H208.34V268.40H202.60zM208.34 266.00H214.07V268.40H208.34zM208.34 258.80H214.07V261.20H208.34zM231.27 278.00H237.00V280.40H231.27zM231.27 273.20H237.00V275.60H231.27zM237.00 278.00H242.74V280.40H237.00zM242.74 282.80H248.47V285.20H242.74zM248.47 282.80H254.20V285.20H248.47zM248.47 251.60H254.20V254.00H248.47zM248.47 239.60H254.20V242.00H248.47zM254.20 278.00H259.94V282.80H254.20zM254.20 242.00H259.94V244.40H254.20zM259.94 285.20H265.67V287.60H259.94zM265.67 278.00H271.40V280.40H265.67zM265.67 251.60H271.40V254.00H265.67zM271.40 275.60H277.14V278.00H271.40zM271.40 251.60H277.14V256.40H271.40zM271.40 244.40H277.14V246.80H271.40zM277.14 280.40H282.87V282.80H277.14zM277.14 261.20H282.87V263.60H277.14zM277.14 251.60H282.87V254.00H277.14zM277.14 246.80H282.87V249.20H277.14zM282.87 292.40H288.61V294.80H282.87zM288.61 266.00H294.34V268.40H288.61zM288.61 261.20H294.34V263.60H288.61zM288.61 246.80H294.34V249.20H288.61zM294.34 297.20H300.07V299.60H294.34zM294.34 266.00H300.07V268.40H294.34zM294.34 258.80H300.07V261.20H294.34zM305.81 287.60H311.54V290.00H305.81zM305.81 280.40H311.54V282.80H305.81zM305.81 263.60H311.54V268.40H305.81zM311.54 302.00H317.27V304.40H311.54zM311.54 287.60H317.27V290.00H311.54zM311.54 266.00H317.27V268.40H311.54zM317.27 304.40H323.01V306.80H317.27zM317.27 282.80H323.01V287.60H317.27zM317.27 270.80H323.01V273.20H317.27zM323.01 304.40H328.74V306.80H323.01zM323.01 292.40H328.74V294.80H323.01zM328.74 304.40H334.47V306.80H328.74zM328.74 282.80H334.47V285.20H328.74zM328.74 273.20H334.47V275.60H328.74zM328.74 244.40H334.47V246.80H328.74zM334.47 302.00H340.21V306.80H334.47zM334.47 290.00H340.21V292.40H334.47zM334.47 282.80H340.21V285.20H334.47zM334.47 258.80H340.21V261.20H334.47zM340.21 246.80H345.94V249.20H340.21zM345.94 306.80H351.67V309.20H345.94zM345.94 287.60H351.67V290.00H345.94zM351.67 287.60H357.41V290.00H351.67zM351.67 256.40H357.41V258.80H351.67zM357.41 287.60H363.14V290.00H357.41zM357.41 258.80H363.14V261.20H357.41zM357.41 244.40H363.14V246.80H357.41zM363.14 290.00H368.87V292.40H363.14zM363.14 258.80H368.87V261.20H363.14zM368.87 282.80H374.61V285.20H368.87zM368.87 270.80H374.61V273.20H368.87zM374.61 290.00H380.34V292.40H374.61zM374.61 270.80H380.34V273.20H374.61zM374.61 266.00H380.34V268.40H374.61zM374.61 256.40H380.34V258.80H374.61zM374.61 251.60H380.34V254.00H374.61zM380.34 287.60H386.07V290.00H380.34zM380.34 256.40H386.07V261.20H380.34zM380.34 246.80H386.07V249.20H380.34zM386.07 254.00H391.81V258.80H386.07zM391.81 299.60H397.54V302.00H391.81zM391.81 261.20H397.54V263.60H391.81zM397.54 273.20H403.27V275.60H397.54zM397.54 256.40H403.27V258.80H397.54zM403.27 297.20H409.01V299.60H403.27zM403.27 273.20H409.01V275.60H403.27zM403.27 258.80H409.01V261.20H403.27zM403.27 246.80H409.01V249.20H403.27zM409.01 270.80H414.74V275.60H409.01zM409.01 261.20H414.74V266.00H409.01zM409.01 256.40H414.74V258.80H409.01zM409.01 249.20H414.74V251.60H409.01zM414.74 268.40H420.48V273.20H414.74zM414.74 258.80H420.48V263.60H414.74zM420.48 287.60H426.21V290.00H420.48zM420.48 268.40H426.21V270.80H420.48zM420.48 261.20H426.21V263.60H420.48zM420.48 256.40H426.21V258.80H420.48zM426.21 246.80H431.94V249.20H426.21zM431.94 256.40H437.68V258.80H431.94zM437.68 251.60H443.41V256.40H437.68zM437.68 246.80H443.41V249.20H437.68zM443.41 249.20H449.14V254.00H443.41zM449.14 275.60H454.88V278.00H449.14zM454.88 273.20H460.61V275.60H454.88zM454.88 263.60H460.61V266.00H454.88zM454.88 246.80H460.61V249.20H454.88zM454.88 242.00H460.61V244.40H454.88zM460.61 273.20H466.34V275.60H460.61zM460.61 246.80H466.34V249.20H460.61zM472.08 256.40H477.81V258.80H472.08zM477.81 268.40H483.54V270.80H477.81zM477.81 242.00H483.54V244.40H477.81zM483.54 258.80H489.28V261.20H483.54zM489.28 256.40H495.01V258.80H489.28zM495.01 242.00H500.74V244.40H495.01zM500.74 263.60H506.48V266.00H500.74zM500.74 239.60H506.48V242.00H500.74zM506.48 242.00H512.21V244.40H506.48zM512.21 242.00H517.94V244.40H512.21zM517.94 239.60H523.68V242.00H517.94zM523.68 261.20H529.41V263.60H523.68zM523.68 237.20H529.41V244.40H523.68zM540.88 244.40H546.61V246.80H540.88zM540.88 239.60H546.61V242.00H540.88zM546.61 268.40H552.35V270.80H546.61zM546.61 244.40H552.35V251.60H546.61zM552.35 270.80H558.08V273.20H552.35zM552.35 249.20H558.08V251.60H552.35zM552.35 242.00H558.08V244.40H552.35zM558.08 273.20H563.81V275.60H558.08zM558.08 246.80H563.81V249.20H558.08zM563.81 275.60H569.55V280.40H563.81zM563.81 251.60H569.55V254.00H563.81zM563.81 244.40H569.55V246.80H563.81zM569.55 280.40H575.28V282.80H569.55zM569.55 258.80H575.28V261.20H569.55zM575.28 285.20H581.01V287.60H575.28zM575.28 261.20H581.01V263.60H575.28zM581.01 258.80H586.75V261.20H581.01zM581.01 246.80H586.75V249.20H581.01zM586.75 294.80H592.48V297.20H586.75zM586.75 258.80H592.48V261.20H586.75zM586.75 254.00H592.48V256.40H586.75zM586.75 244.40H592.48V246.80H586.75zM592.48 256.40H598.21V258.80H592.48zM598.21 268.40H603.95V270.80H598.21zM598.21 261.20H603.95V266.00H598.21zM598.21 256.40H603.95V258.80H598.21zM603.95 294.80H609.68V299.60H603.95zM603.95 278.00H609.68V280.40H603.95zM603.95 268.40H609.68V273.20H603.95zM603.95 232.40H609.68V234.80H603.95zM609.68 273.20H615.41V275.60H609.68zM609.68 268.40H615.41V270.80H609.68zM609.68 261.20H615.41V263.60H609.68zM609.68 254.00H615.41V256.40H609.68zM615.41 273.20H621.15V275.60H615.41zM615.41 263.60H621.15V266.00H615.41zM615.41 256.40H621.15V261.20H615.41zM621.15 275.60H626.88V278.00H621.15zM621.15 234.80H626.88V237.20H621.15zM626.88 273.20H632.61V275.60H626.88zM626.88 258.80H632.61V261.20H626.88zM626.88 251.60H632.61V254.00H626.88zM632.61 273.20H638.35V275.60H632.61zM632.61 266.00H638.35V270.80H632.61zM632.61 244.40H638.35V246.80H632.61zM632.61 230.00H638.35V232.40H632.61zM638.35 294.80H644.08V297.20H638.35zM638.35 266.00H644.08V270.80H638.35zM638.35 242.00H644.08V244.40H638.35zM644.08 294.80H649.82V297.20H644.08zM644.08 273.20H649.82V275.60H644.08zM644.08 266.00H649.82V268.40H644.08zM644.08 261.20H649.82V263.60H644.08zM649.82 263.60H655.55V266.00H649.82zM649.82 227.60H655.55V230.00H649.82zM655.55 273.20H661.28V275.60H655.55zM655.55 261.20H661.28V266.00H655.55zM655.55 220.40H661.28V222.80H655.55zM661.28 258.80H667.02V261.20H661.28zM661.28 246.80H667.02V249.20H661.28zM667.02 290.00H672.75V292.40H667.02zM667.02 266.00H672.75V268.40H667.02zM667.02 261.20H672.75V263.60H667.02zM667.02 230.00H672.75V232.40H667.02zM667.02 220.40H672.75V222.80H667.02zM672.75 261.20H678.48V266.00H672.75zM672.75 234.80H678.48V237.20H672.75zM672.75 215.60H678.48V218.00H672.75zM678.48 287.60H684.22V290.00H678.48zM678.48 256.40H684.22V258.80H678.48zM678.48 251.60H684.22V254.00H678.48zM678.48 222.80H684.22V225.20H678.48zM684.22 285.20H689.95V287.60H684.22zM684.22 266.00H689.95V268.40H684.22zM684.22 256.40H689.95V258.80H684.22zM684.22 239.60H689.95V244.40H684.22zM684.22 227.60H689.95V232.40H684.22zM684.22 213.20H689.95V215.60H684.22zM689.95 285.20H695.68V287.60H689.95zM689.95 256.40H695.68V258.80H689.95zM689.95 215.60H695.68V218.00H689.95zM695.68 261.20H701.42V263.60H695.68zM695.68 249.20H701.42V254.00H695.68zM695.68 242.00H701.42V244.40H695.68zM701.42 280.40H707.15V282.80H701.42zM701.42 251.60H707.15V256.40H701.42zM701.42 242.00H707.15V244.40H701.42zM701.42 230.00H707.15V232.40H701.42zM701.42 201.20H707.15V206.00H701.42zM707.15 256.40H712.88V258.80H707.15zM707.15 234.80H712.88V237.20H707.15zM707.15 225.20H712.88V227.60H707.15zM707.15 213.20H712.88V215.60H707.15zM707.15 203.60H712.88V206.00H707.15zM712.88 273.20H718.62V275.60H712.88zM712.88 242.00H718.62V244.40H712.88zM712.88 218.00H718.62V220.40H712.88zM712.88 208.40H718.62V210.80H712.88zM712.88 198.80H718.62V201.20H712.88zM718.62 246.80H724.35V249.20H718.62zM718.62 237.20H724.35V244.40H718.62zM718.62 227.60H724.35V230.00H718.62zM718.62 220.40H724.35V225.20H718.62zM718.62 210.80H724.35V215.60H718.62zM718.62 203.60H724.35V208.40H718.62zM724.35 273.20H730.08V275.60H724.35zM724.35 266.00H730.08V270.80H724.35zM724.35 249.20H730.08V251.60H724.35zM724.35 239.60H730.08V244.40H724.35zM724.35 232.40H730.08V234.80H724.35zM724.35 222.80H730.08V225.20H724.35zM724.35 210.80H730.08V218.00H724.35zM724.35 196.40H730.08V198.80H724.35zM730.08 234.80H735.82V239.60H730.08zM730.08 225.20H735.82V227.60H730.08zM730.08 208.40H735.82V210.80H730.08zM730.08 203.60H735.82V206.00H730.08zM730.08 196.40H735.82V201.20H730.08zM735.82 266.00H741.55V268.40H735.82zM735.82 239.60H741.55V242.00H735.82zM735.82 227.60H741.55V237.20H735.82zM735.82 213.20H741.55V218.00H735.82zM735.82 206.00H741.55V208.40H735.82zM735.82 194.00H741.55V196.40H735.82zM741.55 266.00H747.28V268.40H741.55zM741.55 232.40H747.28V234.80H741.55zM741.55 203.60H747.28V206.00H741.55zM741.55 194.00H747.28V196.40H741.55zM747.28 258.80H753.02V261.20H747.28zM747.28 220.40H753.02V230.00H747.28zM747.28 213.20H753.02V215.60H747.28zM747.28 206.00H753.02V210.80H747.28zM747.28 198.80H753.02V201.20H747.28zM747.28 194.00H753.02V196.40H747.28zM753.02 227.60H758.75V230.00H753.02zM753.02 222.80H758.75V225.20H753.02zM753.02 215.60H758.75V218.00H753.02zM753.02 206.00H758.75V213.20H753.02zM753.02 194.00H758.75V196.40H753.02z"/><path fill="#d5e21a" d="M156.73 218.00H162.47V220.40H156.73zM156.73 196.40H162.47V198.80H156.73zM179.67 256.40H185.40V258.80H179.67zM179.67 246.80H185.40V249.20H179.67zM179.67 220.40H185.40V222.80H179.67zM185.40 263.60H191.14V266.00H185.40zM185.40 256.40H191.14V258.80H185.40zM191.14 165.20H196.87V167.60H191.14zM208.34 268.40H214.07V270.80H208.34zM208.34 261.20H214.07V263.60H208.34zM214.07 275.60H219.80V278.00H214.07zM214.07 184.40H219.80V186.80H214.07zM219.80 275.60H225.54V278.00H219.80zM219.80 244.40H225.54V246.80H219.80zM231.27 246.80H237.00V249.20H231.27zM237.00 234.80H242.74V237.20H237.00zM242.74 280.40H248.47V282.80H242.74zM242.74 191.60H248.47V194.00H242.74zM248.47 280.40H254.20V282.80H248.47zM248.47 242.00H254.20V244.40H248.47zM254.20 246.80H259.94V249.20H254.20zM259.94 287.60H265.67V290.00H259.94zM259.94 254.00H265.67V256.40H259.94zM259.94 242.00H265.67V244.40H259.94zM259.94 210.80H265.67V213.20H259.94zM265.67 287.60H271.40V290.00H265.67zM265.67 256.40H271.40V258.80H265.67zM265.67 249.20H271.40V251.60H265.67zM271.40 215.60H277.14V218.00H271.40zM271.40 210.80H277.14V213.20H271.40zM277.14 258.80H282.87V261.20H277.14zM282.87 258.80H288.61V261.20H282.87zM282.87 218.00H288.61V220.40H282.87zM288.61 258.80H294.34V261.20H288.61zM288.61 227.60H294.34V230.00H288.61zM294.34 261.20H300.07V263.60H294.34zM294.34 222.80H300.07V225.20H294.34zM300.07 263.60H305.81V266.00H300.07zM305.81 261.20H311.54V263.60H305.81zM311.54 290.00H317.27V292.40H311.54zM311.54 282.80H317.27V285.20H311.54zM311.54 270.80H317.27V273.20H311.54zM311.54 261.20H317.27V263.60H311.54zM311.54 246.80H317.27V249.20H311.54zM311.54 242.00H317.27V244.40H311.54zM317.27 244.40H323.01V249.20H317.27zM317.27 237.20H323.01V239.60H317.27zM323.01 256.40H328.74V258.80H323.01zM323.01 249.20H328.74V251.60H323.01zM328.74 287.60H334.47V290.00H328.74zM328.74 270.80H334.47V273.20H328.74zM328.74 251.60H334.47V254.00H328.74zM334.47 268.40H340.21V270.80H334.47zM340.21 251.60H345.94V254.00H340.21zM345.94 251.60H351.67V254.00H345.94zM345.94 242.00H351.67V244.40H345.94zM351.67 254.00H357.41V256.40H351.67zM357.41 254.00H363.14V258.80H357.41zM363.14 254.00H368.87V256.40H363.14zM363.14 246.80H368.87V251.60H363.14zM368.87 285.20H374.61V287.60H368.87zM368.87 256.40H374.61V258.80H368.87zM368.87 251.60H374.61V254.00H368.87zM374.61 302.00H380.34V306.80H374.61zM374.61 273.20H380.34V275.60H374.61zM374.61 254.00H380.34V256.40H374.61zM374.61 244.40H380.34V246.80H374.61zM380.34 302.00H386.07V304.40H380.34zM380.34 270.80H386.07V275.60H380.34zM380.34 263.60H386.07V266.00H380.34zM386.07 268.40H391.81V270.80H386.07zM386.07 261.20H391.81V263.60H386.07zM386.07 244.40H391.81V246.80H386.07zM391.81 270.80H397.54V273.20H391.81zM391.81 256.40H397.54V258.80H391.81zM397.54 266.00H403.27V268.40H397.54zM397.54 261.20H403.27V263.60H397.54zM403.27 294.80H409.01V297.20H403.27zM403.27 254.00H409.01V256.40H403.27zM403.27 249.20H409.01V251.60H403.27zM409.01 275.60H414.74V278.00H409.01zM409.01 251.60H414.74V254.00H409.01zM409.01 244.40H414.74V246.80H409.01zM414.74 249.20H420.48V254.00H414.74zM420.48 266.00H426.21V268.40H420.48zM420.48 258.80H426.21V261.20H420.48zM420.48 251.60H426.21V254.00H420.48zM426.21 263.60H431.94V266.00H426.21zM426.21 254.00H431.94V256.40H426.21zM431.94 282.80H437.68V285.20H431.94zM431.94 251.60H437.68V256.40H431.94zM431.94 242.00H437.68V249.20H431.94zM437.68 256.40H443.41V258.80H437.68zM443.41 278.00H449.14V280.40H443.41zM449.14 242.00H454.88V246.80H449.14zM454.88 244.40H460.61V246.80H454.88zM466.34 258.80H472.08V261.20H466.34zM472.08 239.60H477.81V242.00H472.08zM477.81 239.60H483.54V242.00H477.81zM483.54 239.60H489.28V242.00H483.54zM489.28 239.60H495.01V242.00H489.28zM495.01 237.20H500.74V239.60H495.01zM546.61 227.60H552.35V230.00H546.61zM558.08 278.00H563.81V280.40H558.08zM558.08 239.60H563.81V242.00H558.08zM563.81 239.60H569.55V242.00H563.81zM569.55 285.20H575.28V287.60H569.55zM575.28 287.60H581.01V290.00H575.28zM575.28 249.20H581.01V254.00H575.28zM575.28 239.60H581.01V242.00H575.28zM592.48 258.80H598.21V263.60H592.48zM592.48 254.00H598.21V256.40H592.48zM592.48 249.20H598.21V251.60H592.48zM598.21 292.40H603.95V294.80H598.21zM598.21 254.00H603.95V256.40H598.21zM598.21 234.80H603.95V237.20H598.21zM603.95 258.80H609.68V261.20H603.95zM609.68 266.00H615.41V268.40H609.68zM609.68 249.20H615.41V251.60H609.68zM615.41 249.20H621.15V251.60H615.41zM615.41 232.40H621.15V234.80H615.41zM621.15 254.00H626.88V256.40H621.15zM626.88 261.20H632.61V263.60H626.88zM632.61 294.80H638.35V299.60H632.61zM632.61 251.60H638.35V254.00H632.61zM632.61 239.60H638.35V242.00H632.61zM632.61 227.60H638.35V230.00H632.61zM632.61 218.00H638.35V220.40H632.61zM638.35 256.40H644.08V261.20H638.35zM638.35 213.20H644.08V215.60H638.35zM644.08 258.80H649.82V261.20H644.08zM644.08 251.60H649.82V254.00H644.08zM644.08 232.40H649.82V234.80H644.08zM644.08 222.80H649.82V225.20H644.08zM644.08 191.60H649.82V194.00H644.08zM649.82 297.20H655.55V299.60H649.82zM649.82 270.80H655.55V273.20H649.82zM649.82 220.40H655.55V222.80H649.82zM655.55 251.60H661.28V258.80H655.55zM655.55 244.40H661.28V246.80H655.55zM661.28 263.60H667.02V266.00H661.28zM661.28 249.20H667.02V251.60H661.28zM661.28 222.80H667.02V225.20H661.28zM667.02 244.40H672.75V246.80H667.02zM667.02 232.40H672.75V234.80H667.02zM667.02 218.00H672.75V220.40H667.02zM672.75 256.40H678.48V258.80H672.75zM672.75 220.40H678.48V225.20H672.75zM678.48 258.80H684.22V263.60H678.48zM678.48 232.40H684.22V234.80H678.48zM678.48 215.60H684.22V220.40H678.48zM684.22 287.60H689.95V290.00H684.22zM684.22 263.60H689.95V266.00H684.22zM684.22 222.80H689.95V225.20H684.22zM684.22 206.00H689.95V208.40H684.22zM689.95 251.60H695.68V256.40H689.95zM689.95 242.00H695.68V244.40H689.95zM689.95 222.80H695.68V225.20H689.95zM689.95 208.40H695.68V210.80H689.95zM695.68 282.80H701.42V287.60H695.68zM695.68 222.80H701.42V225.20H695.68zM695.68 218.00H701.42V220.40H695.68zM695.68 210.80H701.42V213.20H695.68zM695.68 206.00H701.42V208.40H695.68zM701.42 244.40H707.15V246.80H701.42zM701.42 237.20H707.15V239.60H701.42zM701.42 220.40H707.15V222.80H701.42zM701.42 215.60H707.15V218.00H701.42zM701.42 208.40H707.15V210.80H701.42zM707.15 278.00H712.88V280.40H707.15zM707.15 251.60H712.88V254.00H707.15zM707.15 242.00H712.88V244.40H707.15zM707.15 215.60H712.88V220.40H707.15zM707.15 201.20H712.88V203.60H707.15zM712.88 239.60H718.62V242.00H712.88zM712.88 230.00H718.62V232.40H712.88zM712.88 220.40H718.62V222.80H712.88zM712.88 206.00H718.62V208.40H712.88zM724.35 227.60H730.08V230.00H724.35zM730.08 270.80H735.82V273.20H730.08zM730.08 232.40H735.82V234.80H730.08zM730.08 220.40H735.82V222.80H730.08zM730.08 215.60H735.82V218.00H730.08zM730.08 210.80H735.82V213.20H730.08zM730.08 201.20H735.82V203.60H730.08zM735.82 268.40H741.55V270.80H735.82zM735.82 263.60H741.55V266.00H735.82zM735.82 210.80H741.55V213.20H735.82zM735.82 203.60H741.55V206.00H735.82zM741.55 220.40H747.28V222.80H741.55zM747.28 215.60H753.02V218.00H747.28zM747.28 210.80H753.02V213.20H747.28zM747.28 201.20H753.02V203.60H747.28zM747.28 196.40H753.02V198.80H747.28zM753.02 266.00H758.75V268.40H753.02zM753.02 218.00H758.75V222.80H753.02z"/><path fill="#dfe318" d="M151.00 189.20H156.73V191.60H151.00zM156.73 222.80H162.47V225.20H156.73zM156.73 189.20H162.47V191.60H156.73zM156.73 138.80H162.47V141.20H156.73zM156.73 126.80H162.47V129.20H156.73zM162.47 232.40H168.20V234.80H162.47zM162.47 150.80H168.20V153.20H162.47zM173.94 150.80H179.67V153.20H173.94zM173.94 136.40H179.67V138.80H173.94zM185.40 213.20H191.14V215.60H185.40zM185.40 198.80H191.14V201.20H185.40zM185.40 160.40H191.14V162.80H185.40zM191.14 206.00H196.87V208.40H191.14zM196.87 210.80H202.60V213.20H196.87zM196.87 170.00H202.60V172.40H196.87zM196.87 162.80H202.60V165.20H196.87zM202.60 270.80H208.34V273.20H202.60zM202.60 222.80H208.34V225.20H202.60zM202.60 215.60H208.34V218.00H202.60zM202.60 182.00H208.34V184.40H202.60zM208.34 179.60H214.07V182.00H208.34zM208.34 170.00H214.07V172.40H208.34zM214.07 177.20H219.80V179.60H214.07zM219.80 268.40H225.54V270.80H219.80zM219.80 230.00H225.54V234.80H219.80zM219.80 186.80H225.54V189.20H219.80zM225.54 278.00H231.27V280.40H225.54zM231.27 234.80H237.00V237.20H231.27zM231.27 198.80H237.00V201.20H231.27zM231.27 186.80H237.00V189.20H231.27zM237.00 237.20H242.74V239.60H237.00zM242.74 239.60H248.47V242.00H242.74zM242.74 234.80H248.47V237.20H242.74zM242.74 201.20H248.47V203.60H242.74zM248.47 249.20H254.20V251.60H248.47zM248.47 206.00H254.20V208.40H248.47zM248.47 198.80H254.20V201.20H248.47zM254.20 282.80H259.94V285.20H254.20zM254.20 232.40H259.94V234.80H254.20zM254.20 210.80H259.94V213.20H254.20zM265.67 246.80H271.40V249.20H265.67zM265.67 213.20H271.40V215.60H265.67zM265.67 208.40H271.40V210.80H265.67zM271.40 256.40H277.14V261.20H271.40zM277.14 294.80H282.87V297.20H277.14zM277.14 254.00H282.87V256.40H277.14zM277.14 244.40H282.87V246.80H277.14zM277.14 218.00H282.87V220.40H277.14zM277.14 213.20H282.87V215.60H277.14zM282.87 294.80H288.61V297.20H282.87zM282.87 256.40H288.61V258.80H282.87zM282.87 246.80H288.61V254.00H282.87zM288.61 297.20H294.34V299.60H288.61zM288.61 256.40H294.34V258.80H288.61zM288.61 220.40H294.34V222.80H288.61zM294.34 251.60H300.07V254.00H294.34zM294.34 244.40H300.07V246.80H294.34zM294.34 230.00H300.07V234.80H294.34zM300.07 302.00H305.81V304.40H300.07zM300.07 266.00H305.81V268.40H300.07zM300.07 254.00H305.81V256.40H300.07zM300.07 234.80H305.81V239.60H300.07zM300.07 227.60H305.81V230.00H300.07zM305.81 304.40H311.54V306.80H305.81zM305.81 270.80H311.54V273.20H305.81zM305.81 239.60H311.54V242.00H305.81zM305.81 234.80H311.54V237.20H305.81zM311.54 304.40H317.27V306.80H311.54zM311.54 285.20H317.27V287.60H311.54zM311.54 263.60H317.27V266.00H311.54zM311.54 244.40H317.27V246.80H311.54zM317.27 306.80H323.01V309.20H317.27zM317.27 249.20H323.01V251.60H317.27zM317.27 242.00H323.01V244.40H317.27zM323.01 261.20H328.74V263.60H323.01zM328.74 266.00H334.47V270.80H328.74zM328.74 249.20H334.47V251.60H328.74zM328.74 239.60H334.47V242.00H328.74zM334.47 266.00H340.21V268.40H334.47zM334.47 249.20H340.21V256.40H334.47zM334.47 242.00H340.21V244.40H334.47zM340.21 304.40H345.94V306.80H340.21zM340.21 266.00H345.94V268.40H340.21zM340.21 254.00H345.94V263.60H340.21zM345.94 290.00H351.67V292.40H345.94zM345.94 266.00H351.67V270.80H345.94zM345.94 254.00H351.67V256.40H345.94zM351.67 249.20H357.41V251.60H351.67zM351.67 242.00H357.41V244.40H351.67zM357.41 270.80H363.14V273.20H357.41zM363.14 304.40H368.87V309.20H363.14zM368.87 304.40H374.61V309.20H368.87zM368.87 261.20H374.61V263.60H368.87zM368.87 246.80H374.61V249.20H368.87zM374.61 285.20H380.34V287.60H374.61zM374.61 258.80H380.34V261.20H374.61zM374.61 246.80H380.34V249.20H374.61zM380.34 261.20H386.07V263.60H380.34zM380.34 249.20H386.07V251.60H380.34zM380.34 242.00H386.07V244.40H380.34zM386.07 273.20H391.81V275.60H386.07zM386.07 249.20H391.81V254.00H386.07zM391.81 273.20H397.54V275.60H391.81zM391.81 268.40H397.54V270.80H391.81zM391.81 254.00H397.54V256.40H391.81zM391.81 244.40H397.54V246.80H391.81zM397.54 258.80H403.27V261.20H397.54zM397.54 254.00H403.27V256.40H397.54zM403.27 268.40H409.01V270.80H403.27zM403.27 261.20H409.01V263.60H403.27zM403.27 251.60H409.01V254.00H403.27zM409.01 294.80H414.74V297.20H409.01zM409.01 258.80H414.74V261.20H409.01zM414.74 254.00H420.48V256.40H414.74zM420.48 263.60H426.21V266.00H420.48zM420.48 249.20H426.21V251.60H420.48zM420.48 244.40H426.21V246.80H420.48zM426.21 285.20H431.94V287.60H426.21zM426.21 258.80H431.94V261.20H426.21zM426.21 251.60H431.94V254.00H426.21zM437.68 280.40H443.41V282.80H437.68zM443.41 242.00H449.14V249.20H443.41zM449.14 249.20H454.88V251.60H449.14zM454.88 249.20H460.61V251.60H454.88zM472.08 258.80H477.81V261.20H472.08zM472.08 242.00H477.81V244.40H472.08zM477.81 258.80H483.54V261.20H477.81zM483.54 237.20H489.28V239.60H483.54zM500.74 237.20H506.48V239.60H500.74zM517.94 234.80H523.68V239.60H517.94zM529.41 237.20H535.15V239.60H529.41zM535.15 234.80H540.88V237.20H535.15zM535.15 227.60H540.88V230.00H535.15zM540.88 232.40H546.61V237.20H540.88zM546.61 239.60H552.35V242.00H546.61zM552.35 246.80H558.08V249.20H552.35zM552.35 239.60H558.08V242.00H552.35zM558.08 215.60H563.81V218.00H558.08zM563.81 282.80H569.55V285.20H563.81zM563.81 246.80H569.55V249.20H563.81zM569.55 251.60H575.28V258.80H569.55zM569.55 244.40H575.28V246.80H569.55zM569.55 213.20H575.28V215.60H569.55zM569.55 208.40H575.28V210.80H569.55zM575.28 256.40H581.01V258.80H575.28zM575.28 242.00H581.01V244.40H575.28zM575.28 203.60H581.01V206.00H575.28zM581.01 261.20H586.75V263.60H581.01zM581.01 256.40H586.75V258.80H581.01zM581.01 244.40H586.75V246.80H581.01zM586.75 292.40H592.48V294.80H586.75zM586.75 261.20H592.48V263.60H586.75zM586.75 251.60H592.48V254.00H586.75zM586.75 246.80H592.48V249.20H586.75zM592.48 297.20H598.21V299.60H592.48zM592.48 246.80H598.21V249.20H592.48zM592.48 242.00H598.21V244.40H592.48zM592.48 232.40H598.21V239.60H592.48zM598.21 266.00H603.95V268.40H598.21zM598.21 239.60H603.95V242.00H598.21zM598.21 230.00H603.95V232.40H598.21zM598.21 196.40H603.95V198.80H598.21zM603.95 254.00H609.68V256.40H603.95zM603.95 230.00H609.68V232.40H603.95zM603.95 198.80H609.68V201.20H603.95zM609.68 258.80H615.41V261.20H609.68zM609.68 242.00H615.41V244.40H609.68zM609.68 237.20H615.41V239.60H609.68zM615.41 297.20H621.15V299.60H615.41zM615.41 266.00H621.15V268.40H615.41zM615.41 230.00H621.15V232.40H615.41zM615.41 225.20H621.15V227.60H615.41zM615.41 191.60H621.15V194.00H615.41zM621.15 266.00H626.88V268.40H621.15zM621.15 258.80H626.88V263.60H621.15zM621.15 249.20H626.88V254.00H621.15zM621.15 239.60H626.88V242.00H621.15zM626.88 294.80H632.61V297.20H626.88zM626.88 263.60H632.61V266.00H626.88zM626.88 256.40H632.61V258.80H626.88zM626.88 244.40H632.61V249.20H626.88zM626.88 234.80H632.61V239.60H626.88zM626.88 227.60H632.61V230.00H626.88zM632.61 256.40H638.35V258.80H632.61zM632.61 234.80H638.35V237.20H632.61zM632.61 220.40H638.35V222.80H632.61zM632.61 191.60H638.35V194.00H632.61zM638.35 299.60H644.08V302.00H638.35zM638.35 261.20H644.08V266.00H638.35zM638.35 244.40H644.08V246.80H638.35zM638.35 239.60H644.08V242.00H638.35zM638.35 230.00H644.08V234.80H638.35zM638.35 215.60H644.08V218.00H638.35zM644.08 249.20H649.82V251.60H644.08zM644.08 242.00H649.82V244.40H644.08zM649.82 258.80H655.55V261.20H649.82zM649.82 237.20H655.55V239.60H649.82zM649.82 215.60H655.55V218.00H649.82zM649.82 194.00H655.55V196.40H649.82zM655.55 246.80H661.28V251.60H655.55zM655.55 239.60H661.28V242.00H655.55zM655.55 225.20H661.28V227.60H655.55zM655.55 201.20H661.28V203.60H655.55zM661.28 213.20H667.02V215.60H661.28zM661.28 198.80H667.02V201.20H661.28zM667.02 251.60H672.75V254.00H667.02zM667.02 227.60H672.75V230.00H667.02zM667.02 215.60H672.75V218.00H667.02zM667.02 198.80H672.75V201.20H667.02zM672.75 294.80H678.48V297.20H672.75zM672.75 254.00H678.48V256.40H672.75zM672.75 249.20H678.48V251.60H672.75zM672.75 244.40H678.48V246.80H672.75zM672.75 232.40H678.48V234.80H672.75zM672.75 210.80H678.48V213.20H672.75zM678.48 210.80H684.22V213.20H678.48zM678.48 203.60H684.22V208.40H678.48zM684.22 246.80H689.95V249.20H684.22zM684.22 203.60H689.95V206.00H684.22zM689.95 287.60H695.68V290.00H689.95zM689.95 263.60H695.68V266.00H689.95zM689.95 225.20H695.68V230.00H689.95zM689.95 203.60H695.68V208.40H689.95zM695.68 254.00H701.42V256.40H695.68zM695.68 232.40H701.42V234.80H695.68zM695.68 227.60H701.42V230.00H695.68zM695.68 220.40H701.42V222.80H695.68zM695.68 215.60H701.42V218.00H695.68zM695.68 208.40H701.42V210.80H695.68zM701.42 282.80H707.15V285.20H701.42zM701.42 232.40H707.15V234.80H701.42zM701.42 225.20H707.15V227.60H701.42zM701.42 218.00H707.15V220.40H701.42zM701.42 213.20H707.15V215.60H701.42zM701.42 198.80H707.15V201.20H701.42zM707.15 244.40H712.88V246.80H707.15zM707.15 239.60H712.88V242.00H707.15zM707.15 222.80H712.88V225.20H707.15zM707.15 198.80H712.88V201.20H707.15zM712.88 232.40H718.62V239.60H712.88zM712.88 225.20H718.62V227.60H712.88zM712.88 210.80H718.62V213.20H712.88zM712.88 203.60H718.62V206.00H712.88zM718.62 273.20H724.35V275.60H718.62zM718.62 232.40H724.35V237.20H718.62zM718.62 198.80H724.35V201.20H718.62zM718.62 194.00H724.35V196.40H718.62zM724.35 230.00H730.08V232.40H724.35zM724.35 225.20H730.08V227.60H724.35zM724.35 218.00H730.08V222.80H724.35zM724.35 208.40H730.08V210.80H724.35zM724.35 198.80H730.08V201.20H724.35zM730.08 230.00H735.82V232.40H730.08zM730.08 218.00H735.82V220.40H730.08zM735.82 222.80H741.55V227.60H735.82zM735.82 218.00H741.55V220.40H735.82zM735.82 208.40H741.55V210.80H735.82zM741.55 261.20H747.28V263.60H741.55zM741.55 225.20H747.28V230.00H741.55zM741.55 210.80H747.28V215.60H741.55zM753.02 230.00H758.75V232.40H753.02zM753.02 225.20H758.75V227.60H753.02zM753.02 196.40H758.75V198.80H753.02z"/><path fill="#eae51a" d="M151.00 215.60H156.73V218.00H151.00zM151.00 186.80H156.73V189.20H151.00zM151.00 174.80H156.73V177.20H151.00zM151.00 153.20H156.73V155.60H151.00zM151.00 146.00H156.73V148.40H151.00zM151.00 138.80H156.73V143.60H151.00zM156.73 177.20H162.47V179.60H156.73zM156.73 158.00H162.47V160.40H156.73zM156.73 146.00H162.47V150.80H156.73zM162.47 225.20H168.20V227.60H162.47zM162.47 194.00H168.20V196.40H162.47zM162.47 179.60H168.20V182.00H162.47zM162.47 158.00H168.20V160.40H162.47zM162.47 143.60H168.20V146.00H162.47zM162.47 129.20H168.20V131.60H162.47zM168.20 227.60H173.94V230.00H168.20zM168.20 194.00H173.94V196.40H168.20zM168.20 184.40H173.94V186.80H168.20zM168.20 160.40H173.94V162.80H168.20zM168.20 150.80H173.94V153.20H168.20zM168.20 134.00H173.94V136.40H168.20zM173.94 230.00H179.67V234.80H173.94zM173.94 198.80H179.67V201.20H173.94zM173.94 186.80H179.67V191.60H173.94zM173.94 155.60H179.67V158.00H173.94zM179.67 254.00H185.40V256.40H179.67zM179.67 206.00H185.40V208.40H179.67zM179.67 196.40H185.40V198.80H179.67zM179.67 158.00H185.40V162.80H179.67zM179.67 141.20H185.40V143.60H179.67zM185.40 167.60H191.14V170.00H185.40zM185.40 141.20H191.14V143.60H185.40zM191.14 266.00H196.87V270.80H191.14zM191.14 215.60H196.87V218.00H191.14zM191.14 172.40H196.87V174.80H191.14zM191.14 150.80H196.87V153.20H191.14zM196.87 263.60H202.60V266.00H196.87zM196.87 230.00H202.60V232.40H196.87zM196.87 220.40H202.60V222.80H196.87zM196.87 184.40H202.60V186.80H196.87zM196.87 177.20H202.60V179.60H196.87zM202.60 234.80H208.34V237.20H202.60zM202.60 174.80H208.34V177.20H202.60zM202.60 165.20H208.34V167.60H202.60zM208.34 222.80H214.07V225.20H208.34zM208.34 186.80H214.07V189.20H208.34zM208.34 172.40H214.07V174.80H208.34zM214.07 278.00H219.80V280.40H214.07zM214.07 273.20H219.80V275.60H214.07zM214.07 268.40H219.80V270.80H214.07zM214.07 263.60H219.80V266.00H214.07zM214.07 225.20H219.80V230.00H214.07zM214.07 215.60H219.80V218.00H214.07zM214.07 189.20H219.80V191.60H214.07zM214.07 174.80H219.80V177.20H214.07zM219.80 191.60H225.54V194.00H219.80zM219.80 184.40H225.54V186.80H219.80zM219.80 179.60H225.54V182.00H219.80zM225.54 275.60H231.27V278.00H225.54zM225.54 230.00H231.27V234.80H225.54zM225.54 189.20H231.27V196.40H225.54zM225.54 184.40H231.27V186.80H225.54zM225.54 179.60H231.27V182.00H225.54zM231.27 230.00H237.00V232.40H231.27zM231.27 222.80H237.00V225.20H231.27zM231.27 191.60H237.00V194.00H231.27zM231.27 184.40H237.00V186.80H231.27zM237.00 246.80H242.74V249.20H237.00zM237.00 227.60H242.74V230.00H237.00zM237.00 206.00H242.74V208.40H237.00zM237.00 198.80H242.74V201.20H237.00zM237.00 189.20H242.74V194.00H237.00zM237.00 184.40H242.74V186.80H237.00zM242.74 244.40H248.47V251.60H242.74zM242.74 237.20H248.47V239.60H242.74zM242.74 230.00H248.47V232.40H242.74zM242.74 206.00H248.47V208.40H242.74zM242.74 198.80H248.47V201.20H242.74zM248.47 230.00H254.20V232.40H248.47zM248.47 194.00H254.20V196.40H248.47zM254.20 285.20H259.94V287.60H254.20zM254.20 251.60H259.94V254.00H254.20zM254.20 244.40H259.94V246.80H254.20zM254.20 237.20H259.94V239.60H254.20zM254.20 196.40H259.94V203.60H254.20zM259.94 249.20H265.67V254.00H259.94zM259.94 234.80H265.67V239.60H259.94zM259.94 201.20H265.67V208.40H259.94zM265.67 290.00H271.40V292.40H265.67zM265.67 242.00H271.40V244.40H265.67zM265.67 237.20H271.40V239.60H265.67zM265.67 201.20H271.40V206.00H265.67zM271.40 290.00H277.14V292.40H271.40zM271.40 246.80H277.14V249.20H271.40zM271.40 203.60H277.14V208.40H271.40zM277.14 292.40H282.87V294.80H277.14zM277.14 256.40H282.87V258.80H277.14zM277.14 220.40H282.87V222.80H277.14zM277.14 215.60H282.87V218.00H277.14zM282.87 222.80H288.61V227.60H282.87zM282.87 213.20H288.61V218.00H282.87zM288.61 263.60H294.34V266.00H288.61zM288.61 254.00H294.34V256.40H288.61zM288.61 249.20H294.34V251.60H288.61zM288.61 244.40H294.34V246.80H288.61zM288.61 222.80H294.34V227.60H288.61zM294.34 299.60H300.07V302.00H294.34zM294.34 263.60H300.07V266.00H294.34zM294.34 249.20H300.07V251.60H294.34zM294.34 234.80H300.07V237.20H294.34zM300.07 268.40H305.81V270.80H300.07zM300.07 261.20H305.81V263.60H300.07zM300.07 256.40H305.81V258.80H300.07zM300.07 242.00H305.81V249.20H300.07zM300.07 225.20H305.81V227.60H300.07zM305.81 249.20H311.54V251.60H305.81zM305.81 242.00H311.54V246.80H305.81zM305.81 237.20H311.54V239.60H305.81zM305.81 230.00H311.54V232.40H305.81zM311.54 249.20H317.27V251.60H311.54zM311.54 232.40H317.27V242.00H311.54zM317.27 268.40H323.01V270.80H317.27zM317.27 254.00H323.01V256.40H317.27zM323.01 268.40H328.74V270.80H323.01zM323.01 251.60H328.74V256.40H323.01zM323.01 246.80H328.74V249.20H323.01zM323.01 242.00H328.74V244.40H323.01zM323.01 234.80H328.74V239.60H323.01zM328.74 306.80H334.47V311.60H328.74zM328.74 254.00H334.47V263.60H328.74zM328.74 246.80H334.47V249.20H328.74zM328.74 242.00H334.47V244.40H328.74zM328.74 234.80H334.47V237.20H328.74zM334.47 263.60H340.21V266.00H334.47zM334.47 256.40H340.21V258.80H334.47zM334.47 237.20H340.21V239.60H334.47zM340.21 268.40H345.94V270.80H340.21zM340.21 239.60H345.94V246.80H340.21zM345.94 263.60H351.67V266.00H345.94zM345.94 249.20H351.67V251.60H345.94zM345.94 244.40H351.67V246.80H345.94zM351.67 304.40H357.41V306.80H351.67zM351.67 270.80H357.41V273.20H351.67zM351.67 258.80H357.41V268.40H351.67zM351.67 251.60H357.41V254.00H351.67zM351.67 246.80H357.41V249.20H351.67zM357.41 246.80H363.14V249.20H357.41zM363.14 263.60H368.87V273.20H363.14zM363.14 256.40H368.87V258.80H363.14zM363.14 251.60H368.87V254.00H363.14zM363.14 242.00H368.87V246.80H363.14zM368.87 254.00H374.61V256.40H368.87zM368.87 242.00H374.61V246.80H368.87zM374.61 261.20H380.34V266.00H374.61zM374.61 249.20H380.34V251.60H374.61zM380.34 304.40H386.07V309.20H380.34zM380.34 268.40H386.07V270.80H380.34zM380.34 254.00H386.07V256.40H380.34zM386.07 270.80H391.81V273.20H386.07zM386.07 246.80H391.81V249.20H386.07zM391.81 302.00H397.54V304.40H391.81zM391.81 258.80H397.54V261.20H391.81zM391.81 246.80H397.54V254.00H391.81zM397.54 270.80H403.27V273.20H397.54zM397.54 246.80H403.27V254.00H397.54zM403.27 263.60H409.01V268.40H403.27zM403.27 222.80H409.01V225.20H403.27zM409.01 268.40H414.74V270.80H409.01zM409.01 254.00H414.74V256.40H409.01zM409.01 220.40H414.74V222.80H409.01zM414.74 294.80H420.48V297.20H414.74zM414.74 263.60H420.48V268.40H414.74zM414.74 246.80H420.48V249.20H414.74zM420.48 242.00H426.21V244.40H420.48zM426.21 256.40H431.94V258.80H426.21zM426.21 244.40H431.94V246.80H426.21zM426.21 218.00H431.94V220.40H426.21zM431.94 249.20H437.68V251.60H431.94zM431.94 239.60H437.68V242.00H431.94zM431.94 215.60H437.68V218.00H431.94zM437.68 239.60H443.41V242.00H437.68zM437.68 215.60H443.41V218.00H437.68zM443.41 280.40H449.14V282.80H443.41zM443.41 213.20H449.14V215.60H443.41zM449.14 239.60H454.88V242.00H449.14zM454.88 210.80H460.61V213.20H454.88zM460.61 242.00H466.34V246.80H460.61zM460.61 237.20H466.34V239.60H460.61zM466.34 242.00H472.08V244.40H466.34zM466.34 237.20H472.08V239.60H466.34zM472.08 227.60H477.81V230.00H472.08zM477.81 208.40H483.54V210.80H477.81zM489.28 268.40H495.01V270.80H489.28zM506.48 239.60H512.21V242.00H506.48zM512.21 234.80H517.94V239.60H512.21zM517.94 263.60H523.68V266.00H517.94zM517.94 206.00H523.68V208.40H517.94zM523.68 230.00H529.41V234.80H523.68zM529.41 234.80H535.15V237.20H529.41zM529.41 227.60H535.15V232.40H529.41zM535.15 268.40H540.88V270.80H535.15zM535.15 237.20H540.88V239.60H535.15zM535.15 230.00H540.88V234.80H535.15zM535.15 203.60H540.88V206.00H535.15zM540.88 237.20H546.61V239.60H540.88zM540.88 227.60H546.61V232.40H540.88zM540.88 222.80H546.61V225.20H540.88zM540.88 203.60H546.61V206.00H540.88zM546.61 270.80H552.35V273.20H546.61zM546.61 237.20H552.35V239.60H546.61zM546.61 220.40H552.35V225.20H546.61zM546.61 203.60H552.35V206.00H546.61zM552.35 273.20H558.08V278.00H552.35zM552.35 237.20H558.08V239.60H552.35zM552.35 227.60H558.08V230.00H552.35zM552.35 218.00H558.08V222.80H552.35zM558.08 249.20H563.81V251.60H558.08zM558.08 237.20H563.81V239.60H558.08zM558.08 210.80H563.81V213.20H558.08zM558.08 203.60H563.81V206.00H558.08zM563.81 280.40H569.55V282.80H563.81zM563.81 254.00H569.55V256.40H563.81zM563.81 218.00H569.55V220.40H563.81zM563.81 210.80H569.55V213.20H563.81zM563.81 198.80H569.55V201.20H563.81zM569.55 287.60H575.28V290.00H569.55zM569.55 282.80H575.28V285.20H569.55zM569.55 249.20H575.28V251.60H569.55zM569.55 239.60H575.28V242.00H569.55zM575.28 244.40H581.01V246.80H575.28zM575.28 237.20H581.01V239.60H575.28zM575.28 206.00H581.01V208.40H575.28zM581.01 292.40H586.75V297.20H581.01zM581.01 266.00H586.75V268.40H581.01zM581.01 239.60H586.75V244.40H581.01zM581.01 203.60H586.75V206.00H581.01zM581.01 198.80H586.75V201.20H581.01zM586.75 263.60H592.48V266.00H586.75zM586.75 242.00H592.48V244.40H586.75zM586.75 201.20H592.48V203.60H586.75zM586.75 196.40H592.48V198.80H586.75zM592.48 266.00H598.21V270.80H592.48zM592.48 251.60H598.21V254.00H592.48zM592.48 198.80H598.21V203.60H592.48zM592.48 162.80H598.21V165.20H592.48zM598.21 294.80H603.95V299.60H598.21zM598.21 258.80H603.95V261.20H598.21zM598.21 227.60H603.95V230.00H598.21zM598.21 201.20H603.95V203.60H598.21zM598.21 189.20H603.95V191.60H598.21zM603.95 261.20H609.68V263.60H603.95zM603.95 251.60H609.68V254.00H603.95zM603.95 234.80H609.68V239.60H603.95zM603.95 194.00H609.68V196.40H603.95zM603.95 186.80H609.68V189.20H603.95zM603.95 160.40H609.68V162.80H603.95zM609.68 304.40H615.41V306.80H609.68zM609.68 256.40H615.41V258.80H609.68zM609.68 244.40H615.41V249.20H609.68zM609.68 239.60H615.41V242.00H609.68zM609.68 232.40H615.41V237.20H609.68zM609.68 194.00H615.41V201.20H609.68zM615.41 261.20H621.15V263.60H615.41zM615.41 242.00H621.15V246.80H615.41zM615.41 198.80H621.15V201.20H615.41zM621.15 297.20H626.88V299.60H621.15zM621.15 256.40H626.88V258.80H621.15zM621.15 242.00H626.88V244.40H621.15zM621.15 232.40H626.88V234.80H621.15zM621.15 227.60H626.88V230.00H621.15zM621.15 196.40H626.88V198.80H621.15zM621.15 191.60H626.88V194.00H621.15zM626.88 266.00H632.61V268.40H626.88zM626.88 254.00H632.61V256.40H626.88zM626.88 249.20H632.61V251.60H626.88zM626.88 239.60H632.61V244.40H626.88zM626.88 198.80H632.61V201.20H626.88zM626.88 189.20H632.61V191.60H626.88zM632.61 263.60H638.35V266.00H632.61zM632.61 258.80H638.35V261.20H632.61zM632.61 254.00H638.35V256.40H632.61zM632.61 246.80H638.35V249.20H632.61zM632.61 242.00H638.35V244.40H632.61zM632.61 225.20H638.35V227.60H632.61zM632.61 196.40H638.35V198.80H632.61zM638.35 251.60H644.08V254.00H638.35zM638.35 234.80H644.08V237.20H638.35zM638.35 220.40H644.08V225.20H638.35zM638.35 191.60H644.08V194.00H638.35zM638.35 186.80H644.08V189.20H638.35zM644.08 297.20H649.82V299.60H644.08zM644.08 256.40H649.82V258.80H644.08zM644.08 234.80H649.82V239.60H644.08zM644.08 230.00H649.82V232.40H644.08zM644.08 225.20H649.82V227.60H644.08zM644.08 220.40H649.82V222.80H644.08zM644.08 210.80H649.82V218.00H644.08zM644.08 198.80H649.82V201.20H644.08zM649.82 261.20H655.55V263.60H649.82zM649.82 251.60H655.55V254.00H649.82zM649.82 244.40H655.55V249.20H649.82zM649.82 232.40H655.55V234.80H649.82zM649.82 222.80H655.55V225.20H649.82zM649.82 213.20H655.55V215.60H649.82zM649.82 196.40H655.55V198.80H649.82zM655.55 292.40H661.28V297.20H655.55zM655.55 237.20H661.28V239.60H655.55zM655.55 222.80H661.28V225.20H655.55zM655.55 213.20H661.28V218.00H655.55zM655.55 206.00H661.28V208.40H655.55zM655.55 196.40H661.28V198.80H655.55zM661.28 292.40H667.02V297.20H661.28zM661.28 256.40H667.02V258.80H661.28zM661.28 251.60H667.02V254.00H661.28zM661.28 242.00H667.02V244.40H661.28zM661.28 227.60H667.02V232.40H661.28zM661.28 215.60H667.02V222.80H661.28zM661.28 203.60H667.02V208.40H661.28zM661.28 194.00H667.02V196.40H661.28zM661.28 182.00H667.02V184.40H661.28zM667.02 292.40H672.75V294.80H667.02zM667.02 246.80H672.75V249.20H667.02zM667.02 234.80H672.75V242.00H667.02zM667.02 222.80H672.75V225.20H667.02zM667.02 213.20H672.75V215.60H667.02zM667.02 208.40H672.75V210.80H667.02zM667.02 201.20H672.75V203.60H667.02zM667.02 184.40H672.75V186.80H667.02zM672.75 246.80H678.48V249.20H672.75zM672.75 225.20H678.48V227.60H672.75zM672.75 218.00H678.48V220.40H672.75zM672.75 201.20H678.48V208.40H672.75zM678.48 254.00H684.22V256.40H678.48zM678.48 242.00H684.22V246.80H678.48zM678.48 237.20H684.22V239.60H678.48zM678.48 227.60H684.22V232.40H678.48zM678.48 213.20H684.22V215.60H678.48zM678.48 208.40H684.22V210.80H678.48zM678.48 191.60H684.22V194.00H678.48zM684.22 297.20H689.95V299.60H684.22zM684.22 232.40H689.95V237.20H684.22zM684.22 218.00H689.95V222.80H684.22zM684.22 208.40H689.95V210.80H684.22zM684.22 201.20H689.95V203.60H684.22zM684.22 191.60H689.95V194.00H684.22zM689.95 290.00H695.68V292.40H689.95zM689.95 246.80H695.68V249.20H689.95zM689.95 232.40H695.68V242.00H689.95zM689.95 218.00H695.68V222.80H689.95zM689.95 198.80H695.68V203.60H689.95zM695.68 244.40H701.42V246.80H695.68zM695.68 237.20H701.42V242.00H695.68zM695.68 225.20H701.42V227.60H695.68zM695.68 213.20H701.42V215.60H695.68zM695.68 203.60H701.42V206.00H695.68zM695.68 196.40H701.42V198.80H695.68zM701.42 285.20H707.15V287.60H701.42zM701.42 206.00H707.15V208.40H701.42zM707.15 249.20H712.88V251.60H707.15zM707.15 206.00H712.88V208.40H707.15zM712.88 227.60H718.62V230.00H712.88zM712.88 222.80H718.62V225.20H712.88zM712.88 196.40H718.62V198.80H712.88zM718.62 278.00H724.35V280.40H718.62zM718.62 225.20H724.35V227.60H718.62zM718.62 215.60H724.35V220.40H718.62zM724.35 206.00H730.08V208.40H724.35zM724.35 194.00H730.08V196.40H724.35zM730.08 222.80H735.82V225.20H730.08zM730.08 213.20H735.82V215.60H730.08zM730.08 191.60H735.82V194.00H730.08zM735.82 270.80H741.55V273.20H735.82zM735.82 220.40H741.55V222.80H735.82zM741.55 230.00H747.28V232.40H741.55zM741.55 196.40H747.28V198.80H741.55zM747.28 268.40H753.02V270.80H747.28zM747.28 218.00H753.02V220.40H747.28zM753.02 258.80H758.75V261.20H753.02zM753.02 201.20H758.75V203.60H753.02z"/><path fill="#f4e61e" d="M151.00 225.20H156.73V227.60H151.00zM151.00 218.00H156.73V222.80H151.00zM151.00 177.20H156.73V179.60H151.00zM151.00 172.40H156.73V174.80H151.00zM151.00 150.80H156.73V153.20H151.00zM151.00 136.40H156.73V138.80H151.00zM151.00 131.60H156.73V134.00H151.00zM151.00 122.00H156.73V129.20H151.00zM156.73 230.00H162.47V232.40H156.73zM156.73 220.40H162.47V222.80H156.73zM156.73 179.60H162.47V182.00H156.73zM156.73 172.40H162.47V174.80H156.73zM156.73 153.20H162.47V155.60H156.73zM156.73 134.00H162.47V136.40H156.73zM162.47 230.00H168.20V232.40H162.47zM162.47 198.80H168.20V201.20H162.47zM162.47 189.20H168.20V194.00H162.47zM162.47 182.00H168.20V184.40H162.47zM162.47 177.20H168.20V179.60H162.47zM162.47 160.40H168.20V162.80H162.47zM162.47 148.40H168.20V150.80H162.47zM162.47 141.20H168.20V143.60H162.47zM162.47 131.60H168.20V134.00H162.47zM162.47 126.80H168.20V129.20H162.47zM168.20 230.00H173.94V232.40H168.20zM168.20 196.40H173.94V198.80H168.20zM168.20 186.80H173.94V189.20H168.20zM168.20 179.60H173.94V184.40H168.20zM168.20 153.20H173.94V160.40H168.20zM168.20 146.00H173.94V150.80H168.20zM168.20 141.20H173.94V143.60H168.20zM168.20 136.40H173.94V138.80H168.20zM168.20 129.20H173.94V131.60H168.20zM173.94 203.60H179.67V206.00H173.94zM173.94 194.00H179.67V196.40H173.94zM173.94 158.00H179.67V167.60H173.94zM173.94 143.60H179.67V146.00H173.94zM173.94 134.00H179.67V136.40H173.94zM179.67 263.60H185.40V266.00H179.67zM179.67 258.80H185.40V261.20H179.67zM179.67 251.60H185.40V254.00H179.67zM179.67 218.00H185.40V220.40H179.67zM179.67 208.40H185.40V210.80H179.67zM179.67 198.80H185.40V203.60H179.67zM179.67 194.00H185.40V196.40H179.67zM179.67 172.40H185.40V174.80H179.67zM179.67 162.80H185.40V167.60H179.67zM179.67 155.60H185.40V158.00H179.67zM179.67 148.40H185.40V153.20H179.67zM179.67 143.60H185.40V146.00H179.67zM179.67 136.40H185.40V138.80H179.67zM185.40 261.20H191.14V263.60H185.40zM185.40 220.40H191.14V225.20H185.40zM185.40 206.00H191.14V208.40H185.40zM185.40 201.20H191.14V203.60H185.40zM185.40 172.40H191.14V174.80H185.40zM185.40 162.80H191.14V167.60H185.40zM185.40 158.00H191.14V160.40H185.40zM185.40 150.80H191.14V153.20H185.40zM185.40 143.60H191.14V148.40H185.40zM191.14 222.80H196.87V225.20H191.14zM191.14 218.00H196.87V220.40H191.14zM191.14 208.40H196.87V213.20H191.14zM191.14 174.80H196.87V182.00H191.14zM191.14 153.20H196.87V160.40H191.14zM196.87 270.80H202.60V275.60H196.87zM196.87 222.80H202.60V227.60H196.87zM196.87 215.60H202.60V218.00H196.87zM196.87 206.00H202.60V208.40H196.87zM196.87 179.60H202.60V182.00H196.87zM196.87 174.80H202.60V177.20H196.87zM196.87 155.60H202.60V160.40H196.87zM202.60 232.40H208.34V234.80H202.60zM202.60 225.20H208.34V227.60H202.60zM202.60 213.20H208.34V215.60H202.60zM202.60 208.40H208.34V210.80H202.60zM202.60 191.60H208.34V194.00H202.60zM202.60 186.80H208.34V189.20H202.60zM202.60 177.20H208.34V182.00H202.60zM202.60 167.60H208.34V172.40H202.60zM202.60 162.80H208.34V165.20H202.60zM208.34 273.20H214.07V275.60H208.34zM208.34 237.20H214.07V239.60H208.34zM208.34 225.20H214.07V232.40H208.34zM208.34 213.20H214.07V222.80H208.34zM208.34 194.00H214.07V196.40H208.34zM208.34 189.20H214.07V191.60H208.34zM208.34 182.00H214.07V186.80H208.34zM214.07 230.00H219.80V234.80H214.07zM214.07 220.40H219.80V222.80H214.07zM214.07 196.40H219.80V201.20H214.07zM214.07 191.60H219.80V194.00H214.07zM219.80 280.40H225.54V282.80H219.80zM219.80 225.20H225.54V227.60H219.80zM219.80 218.00H225.54V222.80H219.80zM219.80 198.80H225.54V203.60H219.80zM219.80 189.20H225.54V191.60H219.80zM219.80 174.80H225.54V179.60H219.80zM225.54 285.20H231.27V287.60H225.54zM225.54 244.40H231.27V246.80H225.54zM225.54 239.60H231.27V242.00H225.54zM225.54 234.80H231.27V237.20H225.54zM225.54 222.80H231.27V230.00H225.54zM225.54 196.40H231.27V203.60H225.54zM225.54 182.00H231.27V184.40H225.54zM231.27 280.40H237.00V282.80H231.27zM231.27 242.00H237.00V244.40H231.27zM231.27 232.40H237.00V234.80H231.27zM231.27 206.00H237.00V208.40H231.27zM231.27 196.40H237.00V198.80H231.27zM231.27 189.20H237.00V191.60H231.27zM231.27 182.00H237.00V184.40H231.27zM237.00 280.40H242.74V290.00H237.00zM237.00 244.40H242.74V246.80H237.00zM237.00 239.60H242.74V242.00H237.00zM237.00 232.40H242.74V234.80H237.00zM237.00 222.80H242.74V225.20H237.00zM237.00 201.20H242.74V206.00H237.00zM237.00 194.00H242.74V198.80H237.00zM242.74 242.00H248.47V244.40H242.74zM242.74 225.20H248.47V227.60H242.74zM242.74 208.40H248.47V210.80H242.74zM242.74 194.00H248.47V198.80H242.74zM248.47 287.60H254.20V290.00H248.47zM248.47 244.40H254.20V249.20H248.47zM248.47 232.40H254.20V239.60H248.47zM248.47 208.40H254.20V213.20H248.47zM248.47 203.60H254.20V206.00H248.47zM248.47 196.40H254.20V198.80H248.47zM248.47 189.20H254.20V194.00H248.47zM254.20 292.40H259.94V297.20H254.20zM254.20 287.60H259.94V290.00H254.20zM254.20 249.20H259.94V251.60H254.20zM254.20 213.20H259.94V215.60H254.20zM254.20 203.60H259.94V210.80H254.20zM254.20 194.00H259.94V196.40H254.20zM259.94 294.80H265.67V297.20H259.94zM259.94 290.00H265.67V292.40H259.94zM259.94 246.80H265.67V249.20H259.94zM259.94 213.20H265.67V218.00H259.94zM259.94 196.40H265.67V201.20H259.94zM265.67 294.80H271.40V297.20H265.67zM265.67 254.00H271.40V256.40H265.67zM265.67 234.80H271.40V237.20H265.67zM265.67 215.60H271.40V220.40H265.67zM265.67 210.80H271.40V213.20H265.67zM265.67 206.00H271.40V208.40H265.67zM271.40 297.20H277.14V299.60H271.40zM271.40 292.40H277.14V294.80H271.40zM271.40 237.20H277.14V244.40H271.40zM271.40 222.80H277.14V225.20H271.40zM271.40 208.40H277.14V210.80H271.40zM277.14 297.20H282.87V299.60H277.14zM277.14 249.20H282.87V251.60H277.14zM277.14 242.00H282.87V244.40H277.14zM277.14 222.80H282.87V227.60H277.14zM277.14 208.40H282.87V213.20H277.14zM282.87 254.00H288.61V256.40H282.87zM282.87 244.40H288.61V246.80H282.87zM282.87 227.60H288.61V230.00H282.87zM282.87 220.40H288.61V222.80H282.87zM288.61 299.60H294.34V302.00H288.61zM288.61 234.80H294.34V237.20H288.61zM288.61 230.00H294.34V232.40H288.61zM288.61 218.00H294.34V220.40H288.61zM294.34 302.00H300.07V304.40H294.34zM294.34 254.00H300.07V256.40H294.34zM294.34 246.80H300.07V249.20H294.34zM294.34 225.20H300.07V230.00H294.34zM300.07 299.60H305.81V302.00H300.07zM300.07 258.80H305.81V261.20H300.07zM300.07 249.20H305.81V254.00H300.07zM300.07 239.60H305.81V242.00H300.07zM300.07 230.00H305.81V232.40H300.07zM305.81 251.60H311.54V261.20H305.81zM305.81 246.80H311.54V249.20H305.81zM305.81 225.20H311.54V227.60H305.81zM311.54 306.80H317.27V309.20H311.54zM311.54 254.00H317.27V258.80H311.54zM317.27 309.20H323.01V311.60H317.27zM317.27 256.40H323.01V266.00H317.27zM317.27 251.60H323.01V254.00H317.27zM317.27 239.60H323.01V242.00H317.27zM323.01 306.80H328.74V311.60H323.01zM323.01 270.80H328.74V273.20H323.01zM323.01 266.00H328.74V268.40H323.01zM323.01 239.60H328.74V242.00H323.01zM328.74 263.60H334.47V266.00H328.74zM334.47 306.80H340.21V314.00H334.47zM334.47 261.20H340.21V263.60H334.47zM334.47 244.40H340.21V246.80H334.47zM334.47 239.60H340.21V242.00H334.47zM334.47 234.80H340.21V237.20H334.47zM340.21 306.80H345.94V309.20H340.21zM340.21 249.20H345.94V251.60H340.21zM340.21 234.80H345.94V237.20H340.21zM345.94 304.40H351.67V306.80H345.94zM345.94 270.80H351.67V273.20H345.94zM345.94 258.80H351.67V263.60H345.94zM345.94 246.80H351.67V249.20H345.94zM345.94 239.60H351.67V242.00H345.94zM345.94 234.80H351.67V237.20H345.94zM351.67 309.20H357.41V311.60H351.67zM351.67 268.40H357.41V270.80H351.67zM351.67 244.40H357.41V246.80H351.67zM351.67 239.60H357.41V242.00H351.67zM351.67 234.80H357.41V237.20H351.67zM357.41 306.80H363.14V311.60H357.41zM357.41 263.60H363.14V270.80H357.41zM357.41 249.20H363.14V254.00H357.41zM357.41 239.60H363.14V242.00H357.41zM357.41 234.80H363.14V237.20H357.41zM363.14 309.20H368.87V311.60H363.14zM363.14 261.20H368.87V263.60H363.14zM363.14 234.80H368.87V237.20H363.14zM368.87 263.60H374.61V270.80H368.87zM368.87 249.20H374.61V251.60H368.87zM368.87 234.80H374.61V237.20H368.87zM374.61 311.60H380.34V314.00H374.61zM374.61 268.40H380.34V270.80H374.61zM374.61 242.00H380.34V244.40H374.61zM374.61 234.80H380.34V237.20H374.61zM380.34 266.00H386.07V268.40H380.34zM380.34 251.60H386.07V254.00H380.34zM380.34 244.40H386.07V246.80H380.34zM380.34 234.80H386.07V237.20H380.34zM386.07 306.80H391.81V309.20H386.07zM386.07 302.00H391.81V304.40H386.07zM386.07 263.60H391.81V268.40H386.07zM386.07 242.00H391.81V244.40H386.07zM386.07 237.20H391.81V239.60H386.07zM386.07 232.40H391.81V234.80H386.07zM391.81 304.40H397.54V306.80H391.81zM391.81 263.60H397.54V268.40H391.81zM391.81 230.00H397.54V234.80H391.81zM397.54 299.60H403.27V304.40H397.54zM397.54 244.40H403.27V246.80H397.54zM397.54 225.20H403.27V230.00H397.54zM403.27 270.80H409.01V273.20H403.27zM409.01 297.20H414.74V302.00H409.01zM409.01 266.00H414.74V268.40H409.01zM409.01 246.80H414.74V249.20H409.01zM414.74 299.60H420.48V302.00H414.74zM414.74 242.00H420.48V246.80H414.74zM414.74 218.00H420.48V222.80H414.74zM420.48 290.00H426.21V292.40H420.48zM420.48 246.80H426.21V249.20H420.48zM420.48 218.00H426.21V222.80H420.48zM426.21 249.20H431.94V251.60H426.21zM426.21 237.20H431.94V244.40H426.21zM431.94 285.20H437.68V290.00H431.94zM431.94 237.20H437.68V239.60H431.94zM437.68 282.80H443.41V285.20H437.68zM437.68 242.00H443.41V244.40H437.68zM437.68 234.80H443.41V237.20H437.68zM443.41 239.60H449.14V242.00H443.41zM443.41 232.40H449.14V234.80H443.41zM449.14 232.40H454.88V237.20H449.14zM449.14 215.60H454.88V218.00H449.14zM449.14 210.80H454.88V213.20H449.14zM454.88 275.60H460.61V278.00H454.88zM454.88 237.20H460.61V242.00H454.88zM454.88 232.40H460.61V234.80H454.88zM460.61 239.60H466.34V242.00H460.61zM460.61 230.00H466.34V232.40H460.61zM460.61 210.80H466.34V215.60H460.61zM466.34 275.60H472.08V278.00H466.34zM466.34 239.60H472.08V242.00H466.34zM466.34 232.40H472.08V234.80H466.34zM466.34 227.60H472.08V230.00H466.34zM466.34 208.40H472.08V213.20H466.34zM472.08 234.80H477.81V239.60H472.08zM472.08 210.80H477.81V213.20H472.08zM472.08 206.00H477.81V208.40H472.08zM477.81 270.80H483.54V273.20H477.81zM477.81 230.00H483.54V232.40H477.81zM477.81 220.40H483.54V222.80H477.81zM483.54 268.40H489.28V273.20H483.54zM483.54 234.80H489.28V237.20H483.54zM483.54 227.60H489.28V230.00H483.54zM483.54 220.40H489.28V222.80H483.54zM483.54 206.00H489.28V210.80H483.54zM489.28 270.80H495.01V273.20H489.28zM489.28 237.20H495.01V239.60H489.28zM489.28 227.60H495.01V230.00H489.28zM489.28 218.00H495.01V220.40H489.28zM489.28 203.60H495.01V208.40H489.28zM495.01 266.00H500.74V268.40H495.01zM495.01 227.60H500.74V230.00H495.01zM495.01 215.60H500.74V218.00H495.01zM495.01 206.00H500.74V208.40H495.01zM495.01 201.20H500.74V203.60H495.01zM500.74 266.00H506.48V268.40H500.74zM500.74 234.80H506.48V237.20H500.74zM500.74 227.60H506.48V230.00H500.74zM500.74 213.20H506.48V215.60H500.74zM500.74 206.00H506.48V208.40H500.74zM500.74 198.80H506.48V201.20H500.74zM506.48 263.60H512.21V266.00H506.48zM506.48 234.80H512.21V239.60H506.48zM506.48 227.60H512.21V230.00H506.48zM506.48 210.80H512.21V213.20H506.48zM506.48 206.00H512.21V208.40H506.48zM506.48 196.40H512.21V198.80H506.48zM512.21 263.60H517.94V266.00H512.21zM512.21 227.60H517.94V230.00H512.21zM512.21 206.00H517.94V210.80H512.21zM512.21 196.40H517.94V198.80H512.21zM517.94 230.00H523.68V232.40H517.94zM517.94 198.80H523.68V201.20H517.94zM523.68 263.60H529.41V266.00H523.68zM523.68 234.80H529.41V237.20H523.68zM523.68 203.60H529.41V208.40H523.68zM523.68 198.80H529.41V201.20H523.68zM529.41 266.00H535.15V268.40H529.41zM529.41 232.40H535.15V234.80H529.41zM529.41 201.20H535.15V208.40H529.41zM535.15 270.80H540.88V273.20H535.15zM535.15 266.00H540.88V268.40H535.15zM535.15 225.20H540.88V227.60H535.15zM535.15 206.00H540.88V208.40H535.15zM540.88 268.40H546.61V273.20H540.88zM540.88 225.20H546.61V227.60H540.88zM540.88 208.40H546.61V210.80H540.88zM546.61 278.00H552.35V280.40H546.61zM546.61 273.20H552.35V275.60H546.61zM546.61 234.80H552.35V237.20H546.61zM546.61 230.00H552.35V232.40H546.61zM546.61 225.20H552.35V227.60H546.61zM546.61 208.40H552.35V210.80H546.61zM552.35 232.40H558.08V234.80H552.35zM552.35 222.80H558.08V227.60H552.35zM552.35 210.80H558.08V218.00H552.35zM552.35 201.20H558.08V206.00H552.35zM558.08 280.40H563.81V282.80H558.08zM558.08 275.60H563.81V278.00H558.08zM558.08 242.00H563.81V244.40H558.08zM558.08 230.00H563.81V232.40H558.08zM558.08 220.40H563.81V227.60H558.08zM558.08 213.20H563.81V215.60H558.08zM558.08 208.40H563.81V210.80H558.08zM558.08 198.80H563.81V201.20H558.08zM563.81 285.20H569.55V287.60H563.81zM563.81 242.00H569.55V244.40H563.81zM563.81 237.20H569.55V239.60H563.81zM563.81 230.00H569.55V232.40H563.81zM563.81 225.20H569.55V227.60H563.81zM563.81 220.40H569.55V222.80H563.81zM563.81 213.20H569.55V215.60H563.81zM563.81 208.40H569.55V210.80H563.81zM563.81 201.20H569.55V206.00H563.81zM563.81 194.00H569.55V196.40H563.81zM569.55 294.80H575.28V297.20H569.55zM569.55 290.00H575.28V292.40H569.55zM569.55 242.00H575.28V244.40H569.55zM569.55 237.20H575.28V239.60H569.55zM569.55 225.20H575.28V230.00H569.55zM569.55 210.80H575.28V213.20H569.55zM569.55 203.60H575.28V206.00H569.55zM569.55 189.20H575.28V198.80H569.55zM575.28 290.00H581.01V292.40H575.28zM575.28 258.80H581.01V261.20H575.28zM575.28 227.60H581.01V230.00H575.28zM575.28 222.80H581.01V225.20H575.28zM575.28 208.40H581.01V215.60H575.28zM575.28 191.60H581.01V194.00H575.28zM575.28 182.00H581.01V186.80H575.28zM575.28 177.20H581.01V179.60H575.28zM581.01 299.60H586.75V302.00H581.01zM581.01 290.00H586.75V292.40H581.01zM581.01 237.20H586.75V239.60H581.01zM581.01 225.20H586.75V227.60H581.01zM581.01 220.40H586.75V222.80H581.01zM581.01 210.80H586.75V213.20H581.01zM581.01 206.00H586.75V208.40H581.01zM581.01 201.20H586.75V203.60H581.01zM581.01 196.40H586.75V198.80H581.01zM581.01 191.60H586.75V194.00H581.01zM581.01 174.80H586.75V179.60H581.01zM581.01 170.00H586.75V172.40H581.01zM586.75 290.00H592.48V292.40H586.75zM586.75 256.40H592.48V258.80H586.75zM586.75 249.20H592.48V251.60H586.75zM586.75 239.60H592.48V242.00H586.75zM586.75 227.60H592.48V230.00H586.75zM586.75 220.40H592.48V222.80H586.75zM586.75 210.80H592.48V213.20H586.75zM586.75 203.60H592.48V206.00H586.75zM586.75 198.80H592.48V201.20H586.75zM586.75 194.00H592.48V196.40H586.75zM586.75 189.20H592.48V191.60H586.75zM586.75 167.60H592.48V172.40H586.75zM586.75 162.80H592.48V165.20H586.75zM592.48 302.00H598.21V306.80H592.48zM592.48 292.40H598.21V297.20H592.48zM592.48 239.60H598.21V242.00H592.48zM592.48 225.20H598.21V230.00H592.48zM592.48 220.40H598.21V222.80H592.48zM592.48 208.40H598.21V210.80H592.48zM592.48 191.60H598.21V198.80H592.48zM592.48 186.80H598.21V189.20H592.48zM592.48 170.00H598.21V172.40H592.48zM598.21 311.60H603.95V314.00H598.21zM598.21 299.60H603.95V302.00H598.21zM598.21 246.80H603.95V251.60H598.21zM598.21 242.00H603.95V244.40H598.21zM598.21 237.20H603.95V239.60H598.21zM598.21 232.40H603.95V234.80H598.21zM598.21 225.20H603.95V227.60H598.21zM598.21 220.40H603.95V222.80H598.21zM598.21 208.40H603.95V210.80H598.21zM598.21 198.80H603.95V201.20H598.21zM598.21 162.80H603.95V167.60H598.21zM598.21 158.00H603.95V160.40H598.21zM603.95 302.00H609.68V306.80H603.95zM603.95 263.60H609.68V266.00H603.95zM603.95 249.20H609.68V251.60H603.95zM603.95 239.60H609.68V244.40H603.95zM603.95 218.00H609.68V222.80H603.95zM603.95 208.40H609.68V210.80H603.95zM603.95 201.20H609.68V203.60H603.95zM603.95 155.60H609.68V158.00H603.95zM609.68 299.60H615.41V302.00H609.68zM609.68 263.60H615.41V266.00H609.68zM609.68 251.60H615.41V254.00H609.68zM609.68 227.60H615.41V230.00H609.68zM609.68 222.80H615.41V225.20H609.68zM609.68 215.60H615.41V218.00H609.68zM609.68 208.40H615.41V210.80H609.68zM609.68 189.20H615.41V191.60H609.68zM609.68 184.40H615.41V186.80H609.68zM609.68 153.20H615.41V160.40H609.68zM615.41 299.60H621.15V302.00H615.41zM615.41 254.00H621.15V256.40H615.41zM615.41 246.80H621.15V249.20H615.41zM615.41 234.80H621.15V242.00H615.41zM615.41 220.40H621.15V222.80H615.41zM615.41 215.60H621.15V218.00H615.41zM615.41 206.00H621.15V208.40H615.41zM615.41 194.00H621.15V198.80H615.41zM615.41 186.80H621.15V189.20H615.41zM615.41 158.00H621.15V162.80H615.41zM615.41 153.20H621.15V155.60H615.41zM621.15 246.80H626.88V249.20H621.15zM621.15 237.20H626.88V239.60H621.15zM621.15 225.20H626.88V227.60H621.15zM621.15 218.00H626.88V222.80H621.15zM621.15 208.40H626.88V210.80H621.15zM621.15 198.80H626.88V201.20H621.15zM621.15 194.00H626.88V196.40H621.15zM621.15 189.20H626.88V191.60H621.15zM621.15 184.40H626.88V186.80H621.15zM621.15 162.80H626.88V165.20H621.15zM621.15 155.60H626.88V160.40H621.15zM626.88 299.60H632.61V302.00H626.88zM626.88 230.00H632.61V234.80H626.88zM626.88 222.80H632.61V227.60H626.88zM626.88 215.60H632.61V218.00H626.88zM626.88 206.00H632.61V208.40H626.88zM626.88 191.60H632.61V198.80H626.88zM626.88 186.80H632.61V189.20H626.88zM626.88 165.20H632.61V167.60H626.88zM626.88 158.00H632.61V162.80H626.88zM632.61 299.60H638.35V302.00H632.61zM632.61 261.20H638.35V263.60H632.61zM632.61 249.20H638.35V251.60H632.61zM632.61 237.20H638.35V239.60H632.61zM632.61 213.20H638.35V218.00H632.61zM632.61 208.40H638.35V210.80H632.61zM632.61 194.00H638.35V196.40H632.61zM632.61 186.80H638.35V191.60H632.61zM632.61 162.80H638.35V167.60H632.61zM632.61 158.00H638.35V160.40H632.61zM638.35 254.00H644.08V256.40H638.35zM638.35 246.80H644.08V251.60H638.35zM638.35 237.20H644.08V239.60H638.35zM638.35 225.20H644.08V227.60H638.35zM638.35 208.40H644.08V213.20H638.35zM638.35 194.00H644.08V201.20H638.35zM638.35 189.20H644.08V191.60H638.35zM638.35 162.80H644.08V170.00H638.35zM644.08 302.00H649.82V304.40H644.08zM644.08 263.60H649.82V266.00H644.08zM644.08 254.00H649.82V256.40H644.08zM644.08 244.40H649.82V249.20H644.08zM644.08 208.40H649.82V210.80H644.08zM644.08 194.00H649.82V198.80H644.08zM644.08 165.20H649.82V172.40H644.08zM649.82 294.80H655.55V297.20H649.82zM649.82 254.00H655.55V256.40H649.82zM649.82 249.20H655.55V251.60H649.82zM649.82 239.60H655.55V244.40H649.82zM649.82 234.80H655.55V237.20H649.82zM649.82 225.20H655.55V227.60H649.82zM649.82 218.00H655.55V220.40H649.82zM649.82 201.20H655.55V208.40H649.82zM649.82 191.60H655.55V194.00H649.82zM649.82 174.80H655.55V179.60H649.82zM649.82 170.00H655.55V172.40H649.82zM655.55 266.00H661.28V268.40H655.55zM655.55 232.40H661.28V237.20H655.55zM655.55 227.60H661.28V230.00H655.55zM655.55 218.00H661.28V220.40H655.55zM655.55 210.80H661.28V213.20H655.55zM655.55 198.80H661.28V201.20H655.55zM655.55 191.60H661.28V194.00H655.55zM655.55 182.00H661.28V184.40H655.55zM655.55 174.80H661.28V179.60H655.55zM661.28 254.00H667.02V256.40H661.28zM661.28 234.80H667.02V237.20H661.28zM661.28 225.20H667.02V227.60H661.28zM661.28 177.20H667.02V179.60H661.28zM667.02 297.20H672.75V302.00H667.02zM667.02 263.60H672.75V266.00H667.02zM667.02 254.00H672.75V256.40H667.02zM667.02 249.20H672.75V251.60H667.02zM667.02 242.00H672.75V244.40H667.02zM667.02 225.20H672.75V227.60H667.02zM667.02 206.00H672.75V208.40H667.02zM667.02 194.00H672.75V196.40H667.02zM667.02 179.60H672.75V182.00H667.02zM672.75 292.40H678.48V294.80H672.75zM672.75 258.80H678.48V261.20H672.75zM672.75 251.60H678.48V254.00H672.75zM672.75 237.20H678.48V244.40H672.75zM672.75 230.00H678.48V232.40H672.75zM672.75 213.20H678.48V215.60H672.75zM672.75 196.40H678.48V201.20H672.75zM672.75 186.80H678.48V191.60H672.75zM672.75 182.00H678.48V184.40H672.75zM678.48 297.20H684.22V299.60H678.48zM678.48 290.00H684.22V294.80H678.48zM678.48 249.20H684.22V251.60H678.48zM678.48 239.60H684.22V242.00H678.48zM678.48 234.80H684.22V237.20H678.48zM678.48 225.20H684.22V227.60H678.48zM678.48 220.40H684.22V222.80H678.48zM678.48 198.80H684.22V203.60H678.48zM678.48 194.00H684.22V196.40H678.48zM678.48 184.40H684.22V186.80H678.48zM684.22 290.00H689.95V294.80H684.22zM684.22 249.20H689.95V254.00H684.22zM684.22 244.40H689.95V246.80H684.22zM684.22 237.20H689.95V239.60H684.22zM684.22 215.60H689.95V218.00H684.22zM684.22 194.00H689.95V196.40H684.22zM684.22 186.80H689.95V189.20H684.22zM689.95 244.40H695.68V246.80H689.95zM689.95 230.00H695.68V232.40H689.95zM689.95 210.80H695.68V215.60H689.95zM689.95 194.00H695.68V198.80H689.95zM689.95 189.20H695.68V191.60H689.95zM695.68 287.60H701.42V294.80H695.68zM695.68 234.80H701.42V237.20H695.68zM695.68 198.80H701.42V203.60H695.68zM695.68 191.60H701.42V196.40H695.68zM701.42 287.60H707.15V290.00H701.42zM701.42 246.80H707.15V249.20H701.42zM701.42 222.80H707.15V225.20H701.42zM701.42 210.80H707.15V213.20H701.42zM701.42 194.00H707.15V196.40H701.42zM701.42 189.20H707.15V191.60H701.42zM707.15 290.00H712.88V292.40H707.15zM707.15 285.20H712.88V287.60H707.15zM707.15 280.40H712.88V282.80H707.15zM707.15 237.20H712.88V239.60H707.15zM707.15 232.40H712.88V234.80H707.15zM707.15 227.60H712.88V230.00H707.15zM707.15 196.40H712.88V198.80H707.15zM707.15 191.60H712.88V194.00H707.15zM712.88 275.60H718.62V282.80H712.88zM712.88 249.20H718.62V251.60H712.88zM712.88 244.40H718.62V246.80H712.88zM712.88 215.60H718.62V218.00H712.88zM712.88 191.60H718.62V194.00H712.88zM718.62 230.00H724.35V232.40H718.62zM718.62 196.40H724.35V198.80H718.62zM724.35 275.60H730.08V282.80H724.35zM724.35 237.20H730.08V239.60H724.35zM730.08 285.20H735.82V287.60H730.08zM730.08 275.60H735.82V278.00H730.08zM730.08 227.60H735.82V230.00H730.08zM730.08 194.00H735.82V196.40H730.08zM735.82 275.60H741.55V280.40H735.82zM735.82 196.40H741.55V198.80H735.82zM735.82 191.60H741.55V194.00H735.82zM741.55 273.20H747.28V275.60H741.55zM741.55 268.40H747.28V270.80H741.55zM741.55 208.40H747.28V210.80H741.55zM741.55 191.60H747.28V194.00H741.55zM747.28 282.80H753.02V285.20H747.28zM747.28 270.80H753.02V275.60H747.28zM747.28 263.60H753.02V268.40H747.28zM753.02 273.20H758.75V275.60H753.02zM753.02 191.60H758.75V194.00H753.02z"/></g><path d="M154.50 60.5V420.5 M181.50 60.5V420.5 M200.50 60.5V420.5 M215.50 60.5V420.5 M227.50 60.5V420.5 M237.50 60.5V420.5 M246.50 60.5V420.5 M253.50 60.5V420.5 M260.50 60.5V420.5 M306.50 60.5V420.5 M333.50 60.5V420.5 M352.50 60.5V420.5 M367.50 60.5V420.5 M379.50 60.5V420.5 M389.50 60.5V420.5 M398.50 60.5V420.5 M406.50 60.5V420.5 M413.50 60.5V420.5 M459.50 60.5V420.5 M485.50 60.5V420.5 M504.50 60.5V420.5 M519.50 60.5V420.5 M531.50 60.5V420.5 M542.50 60.5V420.5 M550.50 60.5V420.5 M558.50 60.5V420.5 M565.50 60.5V420.5 M611.50 60.5V420.5 M638.50 60.5V420.5 M657.50 60.5V420.5 M672.50 60.5V420.5 M684.50 60.5V420.5 M694.50 60.5V420.5 M703.50 60.5V420.5 M711.50 60.5V420.5 M717.50 60.5V420.5 M108.5 420.50H756.5 M108.5 372.50H756.5 M108.5 324.50H756.5 M108.5 276.50H756.5 M108.5 228.50H756.5 M108.5 180.50H756.5 M108.5 132.50H756.5 M108.5 84.50H756.5" stroke="#a3a3a3" stroke-width="1" fill="none" shape-rendering="auto"/><g clip-path="url(#ax)"><polyline points="260.37,159.20 312.54,173.37 337.34,204.80 397.97,227.60 501.08,174.79 513.72,171.19 534.54,182.00 549.51,211.99 593.68,227.61 610.98,271.99 801.28,242.01" fill="none" stroke="#666" stroke-width="2.78" stroke-linejoin="round" stroke-linecap="square" shape-rendering="auto"/></g><g clip-path="url(#ax)"><polyline points="260.37,342.80 295.48,339.68 352.11,339.67 397.97,345.68 426.97,332.47 470.67,296.35 509.26,278.24 519.24,278.23 531.31,297.20 565.11,332.60 577.17,338.59 594.54,328.71 616.98,365.61 641.25,383.59 664.64,389.60 693.88,389.60 718.14,383.60 746.05,383.57 796.08,389.58" fill="none" stroke="#666" stroke-width="2.78" stroke-linejoin="round" stroke-linecap="square" shape-rendering="auto"/></g><rect x="108.5" y="60.5" width="648.0" height="360.0" fill="none" stroke="#000" stroke-width="1" shape-rendering="crispEdges"/><path d="M154.50 420.5v2.78 M181.50 420.5v2.78 M200.50 420.5v2.78 M215.50 420.5v2.78 M227.50 420.5v2.78 M237.50 420.5v2.78 M246.50 420.5v2.78 M253.50 420.5v2.78 M260.50 420.5v4.86 M306.50 420.5v2.78 M333.50 420.5v2.78 M352.50 420.5v2.78 M367.50 420.5v2.78 M379.50 420.5v2.78 M389.50 420.5v2.78 M398.50 420.5v2.78 M406.50 420.5v2.78 M413.50 420.5v4.86 M459.50 420.5v2.78 M485.50 420.5v2.78 M504.50 420.5v2.78 M519.50 420.5v2.78 M531.50 420.5v2.78 M542.50 420.5v2.78 M550.50 420.5v2.78 M558.50 420.5v2.78 M565.50 420.5v4.86 M611.50 420.5v2.78 M638.50 420.5v2.78 M657.50 420.5v2.78 M672.50 420.5v2.78 M684.50 420.5v2.78 M694.50 420.5v2.78 M703.50 420.5v2.78 M711.50 420.5v2.78 M717.50 420.5v4.86 M108.5 420.50h-4.86 M108.5 372.50h-4.86 M108.5 324.50h-4.86 M108.5 276.50h-4.86 M108.5 228.50h-4.86 M108.5 180.50h-4.86 M108.5 132.50h-4.86 M108.5 84.50h-4.86" stroke="#000" stroke-width="1" fill="none" shape-rendering="crispEdges"/><text transform="translate(119.76,51.70) scale(1.1042,1)" font-size="14" fill="#000" >1Y.GR10.00.HHN | 100.0Hz | 2025-12-07T00:00:01 - 2025-12-12T22:30:01 | 232 segments</text><text transform="translate(61.31,426.00) scale(1.1470,1)" font-size="14" fill="#000">−200</text><text transform="translate(61.31,378.00) scale(1.1470,1)" font-size="14" fill="#000">−180</text><text transform="translate(61.31,330.00) scale(1.1470,1)" font-size="14" fill="#000">−160</text><text transform="translate(61.31,282.00) scale(1.1470,1)" font-size="14" fill="#000">−140</text><text transform="translate(61.31,234.00) scale(1.1470,1)" font-size="14" fill="#000">−120</text><text transform="translate(61.31,186.00) scale(1.1470,1)" font-size="14" fill="#000">−100</text><text transform="translate(70.14,138.00) scale(1.1470,1)" font-size="14" fill="#000">−80</text><text transform="translate(70.14,90.00) scale(1.1470,1)" font-size="14" fill="#000">−60</text><text transform="translate(93.70,441.00) scale(1.0900,1)" font-size="14" fill="#000">0.01</text><text transform="translate(249.97,441.00) scale(1.0900,1)" font-size="14" fill="#000">0.1</text><text transform="translate(409.00,441.00) scale(1.0900,1)" font-size="14" fill="#000">1</text><text transform="translate(556.73,441.00) scale(1.0900,1)" font-size="14" fill="#000">10</text><text transform="translate(704.45,441.00) scale(1.0900,1)" font-size="14" fill="#000">100</text><text transform="translate(398.54,459.70) scale(1.1250,1)" font-size="14" fill="#000" >Period [s]</text><text transform="translate(824.61,425.90) scale(1.0600,1)" font-size="14" fill="#000">0</text><text transform="translate(824.61,365.90) scale(1.0600,1)" font-size="14" fill="#000">5</text><text transform="translate(824.01,305.90) scale(1.0600,1)" font-size="14" fill="#000">10</text><text transform="translate(824.01,245.90) scale(1.0600,1)" font-size="14" fill="#000">15</text><text transform="translate(824.46,185.90) scale(1.0600,1)" font-size="14" fill="#000">20</text><text transform="translate(824.46,125.90) scale(1.0600,1)" font-size="14" fill="#000">25</text><text transform="translate(824.61,65.90) scale(1.0600,1)" font-size="14" fill="#000">30</text><defs><linearGradient id="cb" x1="0" y1="0" x2="0" y2="1"><stop offset="0.00" stop-color="#440154"/><stop offset="0.05" stop-color="#471365"/><stop offset="0.10" stop-color="#482475"/><stop offset="0.15" stop-color="#463480"/><stop offset="0.20" stop-color="#414487"/><stop offset="0.25" stop-color="#3b528b"/><stop offset="0.30" stop-color="#355f8d"/><stop offset="0.35" stop-color="#2f6c8e"/><stop offset="0.40" stop-color="#2a788e"/><stop offset="0.45" stop-color="#25848e"/><stop offset="0.50" stop-color="#21918c"/><stop offset="0.55" stop-color="#1e9c89"/><stop offset="0.60" stop-color="#22a884"/><stop offset="0.65" stop-color="#2fb47c"/><stop offset="0.70" stop-color="#44bf70"/><stop offset="0.75" stop-color="#5ec962"/><stop offset="0.80" stop-color="#7ad151"/><stop offset="0.85" stop-color="#9bd93c"/><stop offset="0.90" stop-color="#bddf26"/><stop offset="0.95" stop-color="#dfe318"/><stop offset="1.00" stop-color="#fde725"/></linearGradient></defs><rect x="797.5" y="60.5" width="18" height="359.5" fill="url(#cb)"/><rect x="797.5" y="60.5" width="18" height="359.5" fill="none" stroke="#000" stroke-width="1.11" shape-rendering="auto"/><path d="M815.5 420.5h4.86 M815.5 360.5h4.86 M815.5 300.5h4.86 M815.5 240.5h4.86 M815.5 180.5h4.86 M815.5 120.5h4.86 M815.5 60.5h4.86" stroke="#000" stroke-width="1.11" shape-rendering="auto"/><g transform="rotate(-90)"><text transform="translate(-330.00,47.50) scale(1.1502,1)" font-size="14" fill="#000" >Amplitude [<tspan font-style="italic">m</tspan><tspan font-size="70%" dy="-0.5em">2</tspan><tspan dy="0.35em">/</tspan><tspan font-style="italic">s</tspan><tspan font-size="70%" dy="-0.5em">4</tspan><tspan dy="0.35em">/</tspan><tspan font-style="italic">Hz</tspan>] [dB]</text></g><g transform="rotate(-90)"><text transform="translate(-253.50,858.20) scale(1.1209,1)" font-size="14" fill="#000" >[%]</text></g><rect x="164.0" y="474.5" width="408.8" height="9.3" fill="#008000"/><rect x="655.3" y="474.5" width="80.6" height="9.3" fill="#008000"/><rect x="245.1" y="483.8" width="161.9" height="14.7" fill="#0000ff"/><rect x="409.1" y="483.8" width="79.9" height="14.7" fill="#0000ff"/><rect x="491.0" y="483.8" width="81.8" height="14.7" fill="#0000ff"/><rect x="655.3" y="483.8" width="79.7" height="14.7" fill="#0000ff"/><rect x="135.5" y="474.5" width="630" height="24" fill="none" stroke="#000" stroke-width="1.11" shape-rendering="auto"/><path d="M164.5 498.5v4.86 M245.5 498.5v4.86 M327.5 498.5v4.86 M409.5 498.5v4.86 M491.5 498.5v4.86 M573.5 498.5v4.86 M655.5 498.5v4.86 M736.5 498.5v4.86" stroke="#000" stroke-width="1.11" shape-rendering="auto"/><g transform="translate(162.50,518.2) rotate(-30)"><text transform="translate(-80.21,0) scale(1.13,1)" font-size="14">2025-12-06</text></g><g transform="translate(243.50,518.2) rotate(-30)"><text transform="translate(-80.21,0) scale(1.13,1)" font-size="14">2025-12-07</text></g><g transform="translate(325.50,518.2) rotate(-30)"><text transform="translate(-80.21,0) scale(1.13,1)" font-size="14">2025-12-08</text></g><g transform="translate(407.50,518.2) rotate(-30)"><text transform="translate(-80.21,0) scale(1.13,1)" font-size="14">2025-12-09</text></g><g transform="translate(489.50,518.2) rotate(-30)"><text transform="translate(-80.37,0) scale(1.13,1)" font-size="14">2025-12-10</text></g><g transform="translate(571.50,518.2) rotate(-30)"><text transform="translate(-78.94,0) scale(1.13,1)" font-size="14">2025-12-11</text></g><g transform="translate(653.50,518.2) rotate(-30)"><text transform="translate(-80.21,0) scale(1.13,1)" font-size="14">2025-12-12</text></g><g transform="translate(734.50,518.2) rotate(-30)"><text transform="translate(-80.21,0) scale(1.13,1)" font-size="14">2025-12-13</text></g><rect x="0" y="576.7" width="900" height="23.3" fill="#808080"/><text transform="translate(8.52,595.00) scale(1.1095,1)" font-size="14" fill="#fff" >Generated by SeedPSD on 2025-12-14 | Calculations updated on 2025-12-13</text></svg>
</body></html>
